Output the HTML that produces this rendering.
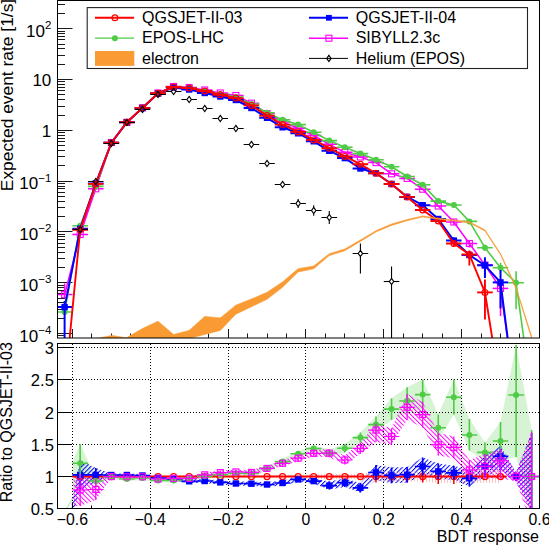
<!DOCTYPE html><html><head><meta charset="utf-8"><style>html,body{margin:0;padding:0;background:#fff;}svg{display:block;}</style></head><body>
<svg width="549" height="545" viewBox="0 0 549 545" font-family='"Liberation Sans", sans-serif'>
<rect width="549" height="545" fill="#fff"/>
<defs>
<clipPath id="cu"><rect x="57.5" y="0.5" width="482.0" height="337.5"/></clipPath>
<clipPath id="cl"><rect x="57.5" y="343.5" width="482.0" height="165.0"/></clipPath>
<pattern id="hb" patternUnits="userSpaceOnUse" width="3.2" height="4" patternTransform="rotate(45)"><rect x="0" y="0" width="1.0" height="4" fill="#0000ff"/></pattern>
<pattern id="hm" patternUnits="userSpaceOnUse" width="3.2" height="4" patternTransform="rotate(-45)"><rect x="0" y="0" width="0.95" height="4" fill="#ff00ff"/></pattern>
<pattern id="hr" patternUnits="userSpaceOnUse" width="3" height="3"><rect x="0" y="0" width="0.8" height="3" fill="#ffb0b0"/></pattern>
</defs>
<line x1="57.50" y1="335.50" x2="65.00" y2="335.50" stroke="#1a1a1a" stroke-width="1.00" />
<line x1="57.50" y1="333.50" x2="72.50" y2="333.50" stroke="#1a1a1a" stroke-width="1.00" />
<line x1="57.50" y1="318.50" x2="65.00" y2="318.50" stroke="#1a1a1a" stroke-width="1.00" />
<line x1="57.50" y1="309.50" x2="65.00" y2="309.50" stroke="#1a1a1a" stroke-width="1.00" />
<line x1="57.50" y1="302.50" x2="65.00" y2="302.50" stroke="#1a1a1a" stroke-width="1.00" />
<line x1="57.50" y1="298.50" x2="65.00" y2="298.50" stroke="#1a1a1a" stroke-width="1.00" />
<line x1="57.50" y1="293.50" x2="65.00" y2="293.50" stroke="#1a1a1a" stroke-width="1.00" />
<line x1="57.50" y1="290.50" x2="65.00" y2="290.50" stroke="#1a1a1a" stroke-width="1.00" />
<line x1="57.50" y1="287.50" x2="65.00" y2="287.50" stroke="#1a1a1a" stroke-width="1.00" />
<line x1="57.50" y1="285.50" x2="65.00" y2="285.50" stroke="#1a1a1a" stroke-width="1.00" />
<line x1="57.50" y1="282.50" x2="72.50" y2="282.50" stroke="#1a1a1a" stroke-width="1.00" />
<line x1="57.50" y1="267.50" x2="65.00" y2="267.50" stroke="#1a1a1a" stroke-width="1.00" />
<line x1="57.50" y1="258.50" x2="65.00" y2="258.50" stroke="#1a1a1a" stroke-width="1.00" />
<line x1="57.50" y1="252.50" x2="65.00" y2="252.50" stroke="#1a1a1a" stroke-width="1.00" />
<line x1="57.50" y1="247.50" x2="65.00" y2="247.50" stroke="#1a1a1a" stroke-width="1.00" />
<line x1="57.50" y1="243.50" x2="65.00" y2="243.50" stroke="#1a1a1a" stroke-width="1.00" />
<line x1="57.50" y1="239.50" x2="65.00" y2="239.50" stroke="#1a1a1a" stroke-width="1.00" />
<line x1="57.50" y1="236.50" x2="65.00" y2="236.50" stroke="#1a1a1a" stroke-width="1.00" />
<line x1="57.50" y1="234.50" x2="65.00" y2="234.50" stroke="#1a1a1a" stroke-width="1.00" />
<line x1="57.50" y1="231.50" x2="72.50" y2="231.50" stroke="#1a1a1a" stroke-width="1.00" />
<line x1="57.50" y1="216.50" x2="65.00" y2="216.50" stroke="#1a1a1a" stroke-width="1.00" />
<line x1="57.50" y1="207.50" x2="65.00" y2="207.50" stroke="#1a1a1a" stroke-width="1.00" />
<line x1="57.50" y1="201.50" x2="65.00" y2="201.50" stroke="#1a1a1a" stroke-width="1.00" />
<line x1="57.50" y1="196.50" x2="65.00" y2="196.50" stroke="#1a1a1a" stroke-width="1.00" />
<line x1="57.50" y1="192.50" x2="65.00" y2="192.50" stroke="#1a1a1a" stroke-width="1.00" />
<line x1="57.50" y1="188.50" x2="65.00" y2="188.50" stroke="#1a1a1a" stroke-width="1.00" />
<line x1="57.50" y1="186.50" x2="65.00" y2="186.50" stroke="#1a1a1a" stroke-width="1.00" />
<line x1="57.50" y1="183.50" x2="65.00" y2="183.50" stroke="#1a1a1a" stroke-width="1.00" />
<line x1="57.50" y1="181.50" x2="72.50" y2="181.50" stroke="#1a1a1a" stroke-width="1.00" />
<line x1="57.50" y1="165.50" x2="65.00" y2="165.50" stroke="#1a1a1a" stroke-width="1.00" />
<line x1="57.50" y1="156.50" x2="65.00" y2="156.50" stroke="#1a1a1a" stroke-width="1.00" />
<line x1="57.50" y1="150.50" x2="65.00" y2="150.50" stroke="#1a1a1a" stroke-width="1.00" />
<line x1="57.50" y1="145.50" x2="65.00" y2="145.50" stroke="#1a1a1a" stroke-width="1.00" />
<line x1="57.50" y1="141.50" x2="65.00" y2="141.50" stroke="#1a1a1a" stroke-width="1.00" />
<line x1="57.50" y1="138.50" x2="65.00" y2="138.50" stroke="#1a1a1a" stroke-width="1.00" />
<line x1="57.50" y1="135.50" x2="65.00" y2="135.50" stroke="#1a1a1a" stroke-width="1.00" />
<line x1="57.50" y1="132.50" x2="65.00" y2="132.50" stroke="#1a1a1a" stroke-width="1.00" />
<line x1="57.50" y1="130.50" x2="72.50" y2="130.50" stroke="#1a1a1a" stroke-width="1.00" />
<line x1="57.50" y1="115.50" x2="65.00" y2="115.50" stroke="#1a1a1a" stroke-width="1.00" />
<line x1="57.50" y1="106.50" x2="65.00" y2="106.50" stroke="#1a1a1a" stroke-width="1.00" />
<line x1="57.50" y1="99.50" x2="65.00" y2="99.50" stroke="#1a1a1a" stroke-width="1.00" />
<line x1="57.50" y1="94.50" x2="65.00" y2="94.50" stroke="#1a1a1a" stroke-width="1.00" />
<line x1="57.50" y1="90.50" x2="65.00" y2="90.50" stroke="#1a1a1a" stroke-width="1.00" />
<line x1="57.50" y1="87.50" x2="65.00" y2="87.50" stroke="#1a1a1a" stroke-width="1.00" />
<line x1="57.50" y1="84.50" x2="65.00" y2="84.50" stroke="#1a1a1a" stroke-width="1.00" />
<line x1="57.50" y1="81.50" x2="65.00" y2="81.50" stroke="#1a1a1a" stroke-width="1.00" />
<line x1="57.50" y1="79.50" x2="72.50" y2="79.50" stroke="#1a1a1a" stroke-width="1.00" />
<line x1="57.50" y1="64.50" x2="65.00" y2="64.50" stroke="#1a1a1a" stroke-width="1.00" />
<line x1="57.50" y1="55.50" x2="65.00" y2="55.50" stroke="#1a1a1a" stroke-width="1.00" />
<line x1="57.50" y1="48.50" x2="65.00" y2="48.50" stroke="#1a1a1a" stroke-width="1.00" />
<line x1="57.50" y1="44.50" x2="65.00" y2="44.50" stroke="#1a1a1a" stroke-width="1.00" />
<line x1="57.50" y1="39.50" x2="65.00" y2="39.50" stroke="#1a1a1a" stroke-width="1.00" />
<line x1="57.50" y1="36.50" x2="65.00" y2="36.50" stroke="#1a1a1a" stroke-width="1.00" />
<line x1="57.50" y1="33.50" x2="65.00" y2="33.50" stroke="#1a1a1a" stroke-width="1.00" />
<line x1="57.50" y1="31.50" x2="65.00" y2="31.50" stroke="#1a1a1a" stroke-width="1.00" />
<line x1="57.50" y1="28.50" x2="72.50" y2="28.50" stroke="#1a1a1a" stroke-width="1.00" />
<line x1="57.50" y1="13.50" x2="65.00" y2="13.50" stroke="#1a1a1a" stroke-width="1.00" />
<line x1="57.50" y1="4.50" x2="65.00" y2="4.50" stroke="#1a1a1a" stroke-width="1.00" />
<line x1="72.50" y1="338.00" x2="72.50" y2="329.00" stroke="#1a1a1a" stroke-width="1.00" />
<line x1="91.50" y1="338.00" x2="91.50" y2="333.50" stroke="#1a1a1a" stroke-width="1.00" />
<line x1="111.50" y1="338.00" x2="111.50" y2="333.50" stroke="#1a1a1a" stroke-width="1.00" />
<line x1="130.50" y1="338.00" x2="130.50" y2="333.50" stroke="#1a1a1a" stroke-width="1.00" />
<line x1="150.50" y1="338.00" x2="150.50" y2="329.00" stroke="#1a1a1a" stroke-width="1.00" />
<line x1="169.50" y1="338.00" x2="169.50" y2="333.50" stroke="#1a1a1a" stroke-width="1.00" />
<line x1="189.50" y1="338.00" x2="189.50" y2="333.50" stroke="#1a1a1a" stroke-width="1.00" />
<line x1="208.50" y1="338.00" x2="208.50" y2="333.50" stroke="#1a1a1a" stroke-width="1.00" />
<line x1="228.50" y1="338.00" x2="228.50" y2="329.00" stroke="#1a1a1a" stroke-width="1.00" />
<line x1="247.50" y1="338.00" x2="247.50" y2="333.50" stroke="#1a1a1a" stroke-width="1.00" />
<line x1="267.50" y1="338.00" x2="267.50" y2="333.50" stroke="#1a1a1a" stroke-width="1.00" />
<line x1="286.50" y1="338.00" x2="286.50" y2="333.50" stroke="#1a1a1a" stroke-width="1.00" />
<line x1="305.50" y1="338.00" x2="305.50" y2="329.00" stroke="#1a1a1a" stroke-width="1.00" />
<line x1="325.50" y1="338.00" x2="325.50" y2="333.50" stroke="#1a1a1a" stroke-width="1.00" />
<line x1="344.50" y1="338.00" x2="344.50" y2="333.50" stroke="#1a1a1a" stroke-width="1.00" />
<line x1="364.50" y1="338.00" x2="364.50" y2="333.50" stroke="#1a1a1a" stroke-width="1.00" />
<line x1="383.50" y1="338.00" x2="383.50" y2="329.00" stroke="#1a1a1a" stroke-width="1.00" />
<line x1="403.50" y1="338.00" x2="403.50" y2="333.50" stroke="#1a1a1a" stroke-width="1.00" />
<line x1="422.50" y1="338.00" x2="422.50" y2="333.50" stroke="#1a1a1a" stroke-width="1.00" />
<line x1="442.50" y1="338.00" x2="442.50" y2="333.50" stroke="#1a1a1a" stroke-width="1.00" />
<line x1="461.50" y1="338.00" x2="461.50" y2="329.00" stroke="#1a1a1a" stroke-width="1.00" />
<line x1="481.50" y1="338.00" x2="481.50" y2="333.50" stroke="#1a1a1a" stroke-width="1.00" />
<line x1="500.50" y1="338.00" x2="500.50" y2="333.50" stroke="#1a1a1a" stroke-width="1.00" />
<line x1="519.50" y1="338.00" x2="519.50" y2="333.50" stroke="#1a1a1a" stroke-width="1.00" />
<line x1="539.50" y1="338.00" x2="539.50" y2="329.00" stroke="#1a1a1a" stroke-width="1.00" />
<g clip-path="url(#cu)">
<line x1="56.83" y1="294.60" x2="72.40" y2="294.60" stroke="#ff00ff" stroke-width="1.50" />
<line x1="64.62" y1="283.60" x2="64.62" y2="297.60" stroke="#ff00ff" stroke-width="1.50" />
<line x1="72.40" y1="234.50" x2="87.97" y2="234.50" stroke="#ff00ff" stroke-width="1.50" />
<line x1="87.97" y1="188.80" x2="103.54" y2="188.80" stroke="#ff00ff" stroke-width="1.50" />
<line x1="103.54" y1="142.50" x2="119.10" y2="142.50" stroke="#ff00ff" stroke-width="1.50" />
<line x1="119.10" y1="122.30" x2="134.67" y2="122.30" stroke="#ff00ff" stroke-width="1.50" />
<line x1="134.67" y1="107.90" x2="150.24" y2="107.90" stroke="#ff00ff" stroke-width="1.50" />
<line x1="150.24" y1="93.00" x2="165.81" y2="93.00" stroke="#ff00ff" stroke-width="1.50" />
<line x1="165.81" y1="86.50" x2="181.38" y2="86.50" stroke="#ff00ff" stroke-width="1.50" />
<line x1="181.38" y1="87.50" x2="196.94" y2="87.50" stroke="#ff00ff" stroke-width="1.50" />
<line x1="196.94" y1="90.00" x2="212.51" y2="90.00" stroke="#ff00ff" stroke-width="1.50" />
<line x1="212.51" y1="93.00" x2="228.08" y2="93.00" stroke="#ff00ff" stroke-width="1.50" />
<line x1="228.08" y1="95.50" x2="243.65" y2="95.50" stroke="#ff00ff" stroke-width="1.50" />
<line x1="243.65" y1="103.20" x2="259.22" y2="103.20" stroke="#ff00ff" stroke-width="1.50" />
<line x1="259.22" y1="113.50" x2="274.78" y2="113.50" stroke="#ff00ff" stroke-width="1.50" />
<line x1="274.78" y1="122.00" x2="290.35" y2="122.00" stroke="#ff00ff" stroke-width="1.50" />
<line x1="290.35" y1="128.20" x2="305.92" y2="128.20" stroke="#ff00ff" stroke-width="1.50" />
<line x1="305.92" y1="135.50" x2="321.49" y2="135.50" stroke="#ff00ff" stroke-width="1.50" />
<line x1="321.49" y1="144.30" x2="337.06" y2="144.30" stroke="#ff00ff" stroke-width="1.50" />
<line x1="337.06" y1="152.30" x2="352.62" y2="152.30" stroke="#ff00ff" stroke-width="1.50" />
<line x1="352.62" y1="157.00" x2="368.19" y2="157.00" stroke="#ff00ff" stroke-width="1.50" />
<line x1="368.19" y1="162.60" x2="383.76" y2="162.60" stroke="#ff00ff" stroke-width="1.50" />
<line x1="383.76" y1="173.80" x2="399.33" y2="173.80" stroke="#ff00ff" stroke-width="1.50" />
<line x1="399.33" y1="178.40" x2="414.90" y2="178.40" stroke="#ff00ff" stroke-width="1.50" />
<line x1="414.90" y1="189.20" x2="430.46" y2="189.20" stroke="#ff00ff" stroke-width="1.50" />
<line x1="430.46" y1="206.00" x2="446.03" y2="206.00" stroke="#ff00ff" stroke-width="1.50" />
<line x1="446.03" y1="222.00" x2="461.60" y2="222.00" stroke="#ff00ff" stroke-width="1.50" />
<line x1="453.82" y1="219.00" x2="453.82" y2="225.00" stroke="#ff00ff" stroke-width="1.50" />
<line x1="461.60" y1="243.50" x2="477.17" y2="243.50" stroke="#ff00ff" stroke-width="1.50" />
<line x1="469.38" y1="240.50" x2="469.38" y2="247.50" stroke="#ff00ff" stroke-width="1.50" />
<line x1="477.17" y1="265.00" x2="492.74" y2="265.00" stroke="#ff00ff" stroke-width="1.50" />
<line x1="484.95" y1="261.00" x2="484.95" y2="271.00" stroke="#ff00ff" stroke-width="1.50" />
<line x1="492.74" y1="288.40" x2="508.30" y2="288.40" stroke="#ff00ff" stroke-width="1.50" />
<line x1="500.52" y1="280.40" x2="500.52" y2="316.10" stroke="#ff00ff" stroke-width="1.50" />
<path d="M64.62 294.60 L80.18 234.50 L95.75 188.80 L111.32 142.50 L126.89 122.30 L142.46 107.90 L158.02 93.00 L173.59 86.50 L189.16 87.50 L204.73 90.00 L220.30 93.00 L235.86 95.50 L251.43 103.20 L267.00 113.50 L282.57 122.00 L298.14 128.20 L313.70 135.50 L329.27 144.30 L344.84 152.30 L360.41 157.00 L375.98 162.60 L391.54 173.80 L407.11 178.40 L422.68 189.20 L438.25 206.00 L453.82 222.00 L469.38 243.50 L484.95 265.00 L500.52 288.40 L516.09 400.00" fill="none" stroke="#ff00ff" stroke-width="1.50" stroke-linejoin="round"/>
<rect x="61.62" y="291.60" width="6.00" height="6.00" fill="none" stroke="#ff00ff" stroke-width="1.1"/>
<rect x="77.18" y="231.50" width="6.00" height="6.00" fill="none" stroke="#ff00ff" stroke-width="1.1"/>
<rect x="92.75" y="185.80" width="6.00" height="6.00" fill="none" stroke="#ff00ff" stroke-width="1.1"/>
<rect x="108.32" y="139.50" width="6.00" height="6.00" fill="none" stroke="#ff00ff" stroke-width="1.1"/>
<rect x="123.89" y="119.30" width="6.00" height="6.00" fill="none" stroke="#ff00ff" stroke-width="1.1"/>
<rect x="139.46" y="104.90" width="6.00" height="6.00" fill="none" stroke="#ff00ff" stroke-width="1.1"/>
<rect x="155.02" y="90.00" width="6.00" height="6.00" fill="none" stroke="#ff00ff" stroke-width="1.1"/>
<rect x="170.59" y="83.50" width="6.00" height="6.00" fill="none" stroke="#ff00ff" stroke-width="1.1"/>
<rect x="186.16" y="84.50" width="6.00" height="6.00" fill="none" stroke="#ff00ff" stroke-width="1.1"/>
<rect x="201.73" y="87.00" width="6.00" height="6.00" fill="none" stroke="#ff00ff" stroke-width="1.1"/>
<rect x="217.30" y="90.00" width="6.00" height="6.00" fill="none" stroke="#ff00ff" stroke-width="1.1"/>
<rect x="232.86" y="92.50" width="6.00" height="6.00" fill="none" stroke="#ff00ff" stroke-width="1.1"/>
<rect x="248.43" y="100.20" width="6.00" height="6.00" fill="none" stroke="#ff00ff" stroke-width="1.1"/>
<rect x="264.00" y="110.50" width="6.00" height="6.00" fill="none" stroke="#ff00ff" stroke-width="1.1"/>
<rect x="279.57" y="119.00" width="6.00" height="6.00" fill="none" stroke="#ff00ff" stroke-width="1.1"/>
<rect x="295.14" y="125.20" width="6.00" height="6.00" fill="none" stroke="#ff00ff" stroke-width="1.1"/>
<rect x="310.70" y="132.50" width="6.00" height="6.00" fill="none" stroke="#ff00ff" stroke-width="1.1"/>
<rect x="326.27" y="141.30" width="6.00" height="6.00" fill="none" stroke="#ff00ff" stroke-width="1.1"/>
<rect x="341.84" y="149.30" width="6.00" height="6.00" fill="none" stroke="#ff00ff" stroke-width="1.1"/>
<rect x="357.41" y="154.00" width="6.00" height="6.00" fill="none" stroke="#ff00ff" stroke-width="1.1"/>
<rect x="372.98" y="159.60" width="6.00" height="6.00" fill="none" stroke="#ff00ff" stroke-width="1.1"/>
<rect x="388.54" y="170.80" width="6.00" height="6.00" fill="none" stroke="#ff00ff" stroke-width="1.1"/>
<rect x="404.11" y="175.40" width="6.00" height="6.00" fill="none" stroke="#ff00ff" stroke-width="1.1"/>
<rect x="419.68" y="186.20" width="6.00" height="6.00" fill="none" stroke="#ff00ff" stroke-width="1.1"/>
<rect x="435.25" y="203.00" width="6.00" height="6.00" fill="none" stroke="#ff00ff" stroke-width="1.1"/>
<rect x="450.82" y="219.00" width="6.00" height="6.00" fill="none" stroke="#ff00ff" stroke-width="1.1"/>
<rect x="466.38" y="240.50" width="6.00" height="6.00" fill="none" stroke="#ff00ff" stroke-width="1.1"/>
<rect x="481.95" y="262.00" width="6.00" height="6.00" fill="none" stroke="#ff00ff" stroke-width="1.1"/>
<rect x="497.52" y="285.40" width="6.00" height="6.00" fill="none" stroke="#ff00ff" stroke-width="1.1"/>
<line x1="56.83" y1="312.00" x2="72.40" y2="312.00" stroke="#4fcc45" stroke-width="1.60" />
<line x1="64.62" y1="309.00" x2="64.62" y2="315.00" stroke="#4fcc45" stroke-width="1.60" />
<line x1="72.40" y1="225.70" x2="87.97" y2="225.70" stroke="#4fcc45" stroke-width="1.60" />
<line x1="87.97" y1="186.40" x2="103.54" y2="186.40" stroke="#4fcc45" stroke-width="1.60" />
<line x1="103.54" y1="142.80" x2="119.10" y2="142.80" stroke="#4fcc45" stroke-width="1.60" />
<line x1="119.10" y1="122.30" x2="134.67" y2="122.30" stroke="#4fcc45" stroke-width="1.60" />
<line x1="134.67" y1="107.90" x2="150.24" y2="107.90" stroke="#4fcc45" stroke-width="1.60" />
<line x1="150.24" y1="93.20" x2="165.81" y2="93.20" stroke="#4fcc45" stroke-width="1.60" />
<line x1="165.81" y1="87.00" x2="181.38" y2="87.00" stroke="#4fcc45" stroke-width="1.60" />
<line x1="181.38" y1="88.00" x2="196.94" y2="88.00" stroke="#4fcc45" stroke-width="1.60" />
<line x1="196.94" y1="91.00" x2="212.51" y2="91.00" stroke="#4fcc45" stroke-width="1.60" />
<line x1="212.51" y1="94.00" x2="228.08" y2="94.00" stroke="#4fcc45" stroke-width="1.60" />
<line x1="228.08" y1="97.00" x2="243.65" y2="97.00" stroke="#4fcc45" stroke-width="1.60" />
<line x1="243.65" y1="104.00" x2="259.22" y2="104.00" stroke="#4fcc45" stroke-width="1.60" />
<line x1="259.22" y1="112.70" x2="274.78" y2="112.70" stroke="#4fcc45" stroke-width="1.60" />
<line x1="274.78" y1="119.70" x2="290.35" y2="119.70" stroke="#4fcc45" stroke-width="1.60" />
<line x1="290.35" y1="124.60" x2="305.92" y2="124.60" stroke="#4fcc45" stroke-width="1.60" />
<line x1="305.92" y1="132.20" x2="321.49" y2="132.20" stroke="#4fcc45" stroke-width="1.60" />
<line x1="321.49" y1="140.60" x2="337.06" y2="140.60" stroke="#4fcc45" stroke-width="1.60" />
<line x1="337.06" y1="147.20" x2="352.62" y2="147.20" stroke="#4fcc45" stroke-width="1.60" />
<line x1="352.62" y1="153.60" x2="368.19" y2="153.60" stroke="#4fcc45" stroke-width="1.60" />
<line x1="368.19" y1="159.70" x2="383.76" y2="159.70" stroke="#4fcc45" stroke-width="1.60" />
<line x1="383.76" y1="166.70" x2="399.33" y2="166.70" stroke="#4fcc45" stroke-width="1.60" />
<line x1="399.33" y1="176.50" x2="414.90" y2="176.50" stroke="#4fcc45" stroke-width="1.60" />
<line x1="414.90" y1="184.70" x2="430.46" y2="184.70" stroke="#4fcc45" stroke-width="1.60" />
<line x1="430.46" y1="201.10" x2="446.03" y2="201.10" stroke="#4fcc45" stroke-width="1.60" />
<line x1="446.03" y1="205.00" x2="461.60" y2="205.00" stroke="#4fcc45" stroke-width="1.60" />
<line x1="461.60" y1="221.40" x2="477.17" y2="221.40" stroke="#4fcc45" stroke-width="1.60" />
<line x1="477.17" y1="247.70" x2="492.74" y2="247.70" stroke="#4fcc45" stroke-width="1.60" />
<line x1="484.95" y1="244.70" x2="484.95" y2="250.70" stroke="#4fcc45" stroke-width="1.60" />
<line x1="492.74" y1="267.70" x2="508.30" y2="267.70" stroke="#4fcc45" stroke-width="1.60" />
<line x1="500.52" y1="262.70" x2="500.52" y2="272.70" stroke="#4fcc45" stroke-width="1.60" />
<line x1="508.30" y1="282.80" x2="523.87" y2="282.80" stroke="#4fcc45" stroke-width="1.60" />
<line x1="516.09" y1="271.30" x2="516.09" y2="309.20" stroke="#4fcc45" stroke-width="1.60" />
<path d="M64.62 312.00 L80.18 225.70 L95.75 186.40 L111.32 142.80 L126.89 122.30 L142.46 107.90 L158.02 93.20 L173.59 87.00 L189.16 88.00 L204.73 91.00 L220.30 94.00 L235.86 97.00 L251.43 104.00 L267.00 112.70 L282.57 119.70 L298.14 124.60 L313.70 132.20 L329.27 140.60 L344.84 147.20 L360.41 153.60 L375.98 159.70 L391.54 166.70 L407.11 176.50 L422.68 184.70 L438.25 201.10 L453.82 205.00 L469.38 221.40 L484.95 247.70 L500.52 267.70 L516.09 282.80 L531.66 395.00" fill="none" stroke="#4fcc45" stroke-width="1.60" stroke-linejoin="round"/>
<circle cx="64.62" cy="312.00" r="3.00" fill="#4fcc45"/>
<circle cx="80.18" cy="225.70" r="3.00" fill="#4fcc45"/>
<circle cx="95.75" cy="186.40" r="3.00" fill="#4fcc45"/>
<circle cx="111.32" cy="142.80" r="3.00" fill="#4fcc45"/>
<circle cx="126.89" cy="122.30" r="3.00" fill="#4fcc45"/>
<circle cx="142.46" cy="107.90" r="3.00" fill="#4fcc45"/>
<circle cx="158.02" cy="93.20" r="3.00" fill="#4fcc45"/>
<circle cx="173.59" cy="87.00" r="3.00" fill="#4fcc45"/>
<circle cx="189.16" cy="88.00" r="3.00" fill="#4fcc45"/>
<circle cx="204.73" cy="91.00" r="3.00" fill="#4fcc45"/>
<circle cx="220.30" cy="94.00" r="3.00" fill="#4fcc45"/>
<circle cx="235.86" cy="97.00" r="3.00" fill="#4fcc45"/>
<circle cx="251.43" cy="104.00" r="3.00" fill="#4fcc45"/>
<circle cx="267.00" cy="112.70" r="3.00" fill="#4fcc45"/>
<circle cx="282.57" cy="119.70" r="3.00" fill="#4fcc45"/>
<circle cx="298.14" cy="124.60" r="3.00" fill="#4fcc45"/>
<circle cx="313.70" cy="132.20" r="3.00" fill="#4fcc45"/>
<circle cx="329.27" cy="140.60" r="3.00" fill="#4fcc45"/>
<circle cx="344.84" cy="147.20" r="3.00" fill="#4fcc45"/>
<circle cx="360.41" cy="153.60" r="3.00" fill="#4fcc45"/>
<circle cx="375.98" cy="159.70" r="3.00" fill="#4fcc45"/>
<circle cx="391.54" cy="166.70" r="3.00" fill="#4fcc45"/>
<circle cx="407.11" cy="176.50" r="3.00" fill="#4fcc45"/>
<circle cx="422.68" cy="184.70" r="3.00" fill="#4fcc45"/>
<circle cx="438.25" cy="201.10" r="3.00" fill="#4fcc45"/>
<circle cx="453.82" cy="205.00" r="3.00" fill="#4fcc45"/>
<circle cx="469.38" cy="221.40" r="3.00" fill="#4fcc45"/>
<circle cx="484.95" cy="247.70" r="3.00" fill="#4fcc45"/>
<circle cx="500.52" cy="267.70" r="3.00" fill="#4fcc45"/>
<circle cx="516.09" cy="282.80" r="3.00" fill="#4fcc45"/>
<line x1="56.83" y1="307.10" x2="72.40" y2="307.10" stroke="#0000ff" stroke-width="2.00" />
<line x1="64.62" y1="301.10" x2="64.62" y2="347.10" stroke="#0000ff" stroke-width="2.00" />
<line x1="72.40" y1="228.70" x2="87.97" y2="228.70" stroke="#0000ff" stroke-width="2.00" />
<line x1="87.97" y1="183.50" x2="103.54" y2="183.50" stroke="#0000ff" stroke-width="2.00" />
<line x1="103.54" y1="142.80" x2="119.10" y2="142.80" stroke="#0000ff" stroke-width="2.00" />
<line x1="119.10" y1="122.30" x2="134.67" y2="122.30" stroke="#0000ff" stroke-width="2.00" />
<line x1="134.67" y1="107.90" x2="150.24" y2="107.90" stroke="#0000ff" stroke-width="2.00" />
<line x1="150.24" y1="93.40" x2="165.81" y2="93.40" stroke="#0000ff" stroke-width="2.00" />
<line x1="165.81" y1="87.50" x2="181.38" y2="87.50" stroke="#0000ff" stroke-width="2.00" />
<line x1="181.38" y1="89.50" x2="196.94" y2="89.50" stroke="#0000ff" stroke-width="2.00" />
<line x1="196.94" y1="93.00" x2="212.51" y2="93.00" stroke="#0000ff" stroke-width="2.00" />
<line x1="212.51" y1="96.50" x2="228.08" y2="96.50" stroke="#0000ff" stroke-width="2.00" />
<line x1="228.08" y1="100.00" x2="243.65" y2="100.00" stroke="#0000ff" stroke-width="2.00" />
<line x1="243.65" y1="108.00" x2="259.22" y2="108.00" stroke="#0000ff" stroke-width="2.00" />
<line x1="259.22" y1="117.80" x2="274.78" y2="117.80" stroke="#0000ff" stroke-width="2.00" />
<line x1="274.78" y1="127.30" x2="290.35" y2="127.30" stroke="#0000ff" stroke-width="2.00" />
<line x1="290.35" y1="133.30" x2="305.92" y2="133.30" stroke="#0000ff" stroke-width="2.00" />
<line x1="305.92" y1="141.30" x2="321.49" y2="141.30" stroke="#0000ff" stroke-width="2.00" />
<line x1="321.49" y1="150.80" x2="337.06" y2="150.80" stroke="#0000ff" stroke-width="2.00" />
<line x1="337.06" y1="158.10" x2="352.62" y2="158.10" stroke="#0000ff" stroke-width="2.00" />
<line x1="352.62" y1="168.50" x2="368.19" y2="168.50" stroke="#0000ff" stroke-width="2.00" />
<line x1="368.19" y1="173.20" x2="383.76" y2="173.20" stroke="#0000ff" stroke-width="2.00" />
<line x1="383.76" y1="184.00" x2="399.33" y2="184.00" stroke="#0000ff" stroke-width="2.00" />
<line x1="399.33" y1="196.90" x2="414.90" y2="196.90" stroke="#0000ff" stroke-width="2.00" />
<line x1="414.90" y1="205.20" x2="430.46" y2="205.20" stroke="#0000ff" stroke-width="2.00" />
<line x1="430.46" y1="219.00" x2="446.03" y2="219.00" stroke="#0000ff" stroke-width="2.00" />
<line x1="438.25" y1="217.00" x2="438.25" y2="221.00" stroke="#0000ff" stroke-width="2.00" />
<line x1="446.03" y1="240.60" x2="461.60" y2="240.60" stroke="#0000ff" stroke-width="2.00" />
<line x1="453.82" y1="237.60" x2="453.82" y2="243.60" stroke="#0000ff" stroke-width="2.00" />
<line x1="461.60" y1="255.00" x2="477.17" y2="255.00" stroke="#0000ff" stroke-width="2.00" />
<line x1="469.38" y1="251.00" x2="469.38" y2="259.00" stroke="#0000ff" stroke-width="2.00" />
<line x1="477.17" y1="265.30" x2="492.74" y2="265.30" stroke="#0000ff" stroke-width="2.00" />
<line x1="484.95" y1="257.30" x2="484.95" y2="278.00" stroke="#0000ff" stroke-width="2.00" />
<line x1="492.74" y1="282.40" x2="508.30" y2="282.40" stroke="#0000ff" stroke-width="2.00" />
<line x1="500.52" y1="270.00" x2="500.52" y2="308.40" stroke="#0000ff" stroke-width="2.00" />
<path d="M64.62 307.10 L80.18 228.70 L95.75 183.50 L111.32 142.80 L126.89 122.30 L142.46 107.90 L158.02 93.40 L173.59 87.50 L189.16 89.50 L204.73 93.00 L220.30 96.50 L235.86 100.00 L251.43 108.00 L267.00 117.80 L282.57 127.30 L298.14 133.30 L313.70 141.30 L329.27 150.80 L344.84 158.10 L360.41 168.50 L375.98 173.20 L391.54 184.00 L407.11 196.90 L422.68 205.20 L438.25 219.00 L453.82 240.60 L469.38 255.00 L484.95 265.30 L500.52 282.40 L516.09 404.00" fill="none" stroke="#0000ff" stroke-width="2.00" stroke-linejoin="round"/>
<rect x="61.42" y="303.90" width="6.40" height="6.40" fill="#0000ff"/>
<rect x="76.98" y="225.50" width="6.40" height="6.40" fill="#0000ff"/>
<rect x="92.55" y="180.30" width="6.40" height="6.40" fill="#0000ff"/>
<rect x="108.12" y="139.60" width="6.40" height="6.40" fill="#0000ff"/>
<rect x="123.69" y="119.10" width="6.40" height="6.40" fill="#0000ff"/>
<rect x="139.26" y="104.70" width="6.40" height="6.40" fill="#0000ff"/>
<rect x="154.82" y="90.20" width="6.40" height="6.40" fill="#0000ff"/>
<rect x="170.39" y="84.30" width="6.40" height="6.40" fill="#0000ff"/>
<rect x="185.96" y="86.30" width="6.40" height="6.40" fill="#0000ff"/>
<rect x="201.53" y="89.80" width="6.40" height="6.40" fill="#0000ff"/>
<rect x="217.10" y="93.30" width="6.40" height="6.40" fill="#0000ff"/>
<rect x="232.66" y="96.80" width="6.40" height="6.40" fill="#0000ff"/>
<rect x="248.23" y="104.80" width="6.40" height="6.40" fill="#0000ff"/>
<rect x="263.80" y="114.60" width="6.40" height="6.40" fill="#0000ff"/>
<rect x="279.37" y="124.10" width="6.40" height="6.40" fill="#0000ff"/>
<rect x="294.94" y="130.10" width="6.40" height="6.40" fill="#0000ff"/>
<rect x="310.50" y="138.10" width="6.40" height="6.40" fill="#0000ff"/>
<rect x="326.07" y="147.60" width="6.40" height="6.40" fill="#0000ff"/>
<rect x="341.64" y="154.90" width="6.40" height="6.40" fill="#0000ff"/>
<rect x="357.21" y="165.30" width="6.40" height="6.40" fill="#0000ff"/>
<rect x="372.78" y="170.00" width="6.40" height="6.40" fill="#0000ff"/>
<rect x="388.34" y="180.80" width="6.40" height="6.40" fill="#0000ff"/>
<rect x="403.91" y="193.70" width="6.40" height="6.40" fill="#0000ff"/>
<rect x="419.48" y="202.00" width="6.40" height="6.40" fill="#0000ff"/>
<rect x="435.05" y="215.80" width="6.40" height="6.40" fill="#0000ff"/>
<rect x="450.62" y="237.40" width="6.40" height="6.40" fill="#0000ff"/>
<rect x="466.18" y="251.80" width="6.40" height="6.40" fill="#0000ff"/>
<rect x="481.75" y="262.10" width="6.40" height="6.40" fill="#0000ff"/>
<rect x="497.32" y="279.20" width="6.40" height="6.40" fill="#0000ff"/>
<line x1="72.40" y1="229.80" x2="87.97" y2="229.80" stroke="#ff0000" stroke-width="1.90" />
<line x1="87.97" y1="183.90" x2="103.54" y2="183.90" stroke="#ff0000" stroke-width="1.90" />
<line x1="103.54" y1="142.80" x2="119.10" y2="142.80" stroke="#ff0000" stroke-width="1.90" />
<line x1="119.10" y1="122.30" x2="134.67" y2="122.30" stroke="#ff0000" stroke-width="1.90" />
<line x1="134.67" y1="107.90" x2="150.24" y2="107.90" stroke="#ff0000" stroke-width="1.90" />
<line x1="150.24" y1="93.20" x2="165.81" y2="93.20" stroke="#ff0000" stroke-width="1.90" />
<line x1="165.81" y1="87.00" x2="181.38" y2="87.00" stroke="#ff0000" stroke-width="1.90" />
<line x1="181.38" y1="88.10" x2="196.94" y2="88.10" stroke="#ff0000" stroke-width="1.90" />
<line x1="196.94" y1="91.00" x2="212.51" y2="91.00" stroke="#ff0000" stroke-width="1.90" />
<line x1="212.51" y1="94.70" x2="228.08" y2="94.70" stroke="#ff0000" stroke-width="1.90" />
<line x1="228.08" y1="98.10" x2="243.65" y2="98.10" stroke="#ff0000" stroke-width="1.90" />
<line x1="243.65" y1="105.40" x2="259.22" y2="105.40" stroke="#ff0000" stroke-width="1.90" />
<line x1="259.22" y1="115.60" x2="274.78" y2="115.60" stroke="#ff0000" stroke-width="1.90" />
<line x1="274.78" y1="124.60" x2="290.35" y2="124.60" stroke="#ff0000" stroke-width="1.90" />
<line x1="290.35" y1="131.90" x2="305.92" y2="131.90" stroke="#ff0000" stroke-width="1.90" />
<line x1="305.92" y1="139.90" x2="321.49" y2="139.90" stroke="#ff0000" stroke-width="1.90" />
<line x1="321.49" y1="148.20" x2="337.06" y2="148.20" stroke="#ff0000" stroke-width="1.90" />
<line x1="337.06" y1="156.40" x2="352.62" y2="156.40" stroke="#ff0000" stroke-width="1.90" />
<line x1="352.62" y1="164.20" x2="368.19" y2="164.20" stroke="#ff0000" stroke-width="1.90" />
<line x1="368.19" y1="173.20" x2="383.76" y2="173.20" stroke="#ff0000" stroke-width="1.90" />
<line x1="383.76" y1="184.00" x2="399.33" y2="184.00" stroke="#ff0000" stroke-width="1.90" />
<line x1="399.33" y1="196.90" x2="414.90" y2="196.90" stroke="#ff0000" stroke-width="1.90" />
<line x1="414.90" y1="210.00" x2="430.46" y2="210.00" stroke="#ff0000" stroke-width="1.90" />
<line x1="430.46" y1="221.00" x2="446.03" y2="221.00" stroke="#ff0000" stroke-width="1.90" />
<line x1="446.03" y1="243.50" x2="461.60" y2="243.50" stroke="#ff0000" stroke-width="1.90" />
<line x1="453.82" y1="240.50" x2="453.82" y2="246.50" stroke="#ff0000" stroke-width="1.90" />
<line x1="461.60" y1="254.50" x2="477.17" y2="254.50" stroke="#ff0000" stroke-width="1.90" />
<line x1="469.38" y1="250.50" x2="469.38" y2="265.50" stroke="#ff0000" stroke-width="1.90" />
<line x1="477.17" y1="292.40" x2="492.74" y2="292.40" stroke="#ff0000" stroke-width="1.90" />
<line x1="484.95" y1="279.40" x2="484.95" y2="319.40" stroke="#ff0000" stroke-width="1.90" />
<path d="M64.62 390.00 L80.18 229.80 L95.75 183.90 L111.32 142.80 L126.89 122.30 L142.46 107.90 L158.02 93.20 L173.59 87.00 L189.16 88.10 L204.73 91.00 L220.30 94.70 L235.86 98.10 L251.43 105.40 L267.00 115.60 L282.57 124.60 L298.14 131.90 L313.70 139.90 L329.27 148.20 L344.84 156.40 L360.41 164.20 L375.98 173.20 L391.54 184.00 L407.11 196.90 L422.68 210.00 L438.25 221.00 L453.82 243.50 L469.38 254.50 L484.95 292.40 L500.52 390.00" fill="none" stroke="#ff0000" stroke-width="1.90" stroke-linejoin="round"/>
<circle cx="80.18" cy="229.80" r="2.90" fill="none" stroke="#ff0000" stroke-width="1.2"/>
<circle cx="95.75" cy="183.90" r="2.90" fill="none" stroke="#ff0000" stroke-width="1.2"/>
<circle cx="111.32" cy="142.80" r="2.90" fill="none" stroke="#ff0000" stroke-width="1.2"/>
<circle cx="126.89" cy="122.30" r="2.90" fill="none" stroke="#ff0000" stroke-width="1.2"/>
<circle cx="142.46" cy="107.90" r="2.90" fill="none" stroke="#ff0000" stroke-width="1.2"/>
<circle cx="158.02" cy="93.20" r="2.90" fill="none" stroke="#ff0000" stroke-width="1.2"/>
<circle cx="173.59" cy="87.00" r="2.90" fill="none" stroke="#ff0000" stroke-width="1.2"/>
<circle cx="189.16" cy="88.10" r="2.90" fill="none" stroke="#ff0000" stroke-width="1.2"/>
<circle cx="204.73" cy="91.00" r="2.90" fill="none" stroke="#ff0000" stroke-width="1.2"/>
<circle cx="220.30" cy="94.70" r="2.90" fill="none" stroke="#ff0000" stroke-width="1.2"/>
<circle cx="235.86" cy="98.10" r="2.90" fill="none" stroke="#ff0000" stroke-width="1.2"/>
<circle cx="251.43" cy="105.40" r="2.90" fill="none" stroke="#ff0000" stroke-width="1.2"/>
<circle cx="267.00" cy="115.60" r="2.90" fill="none" stroke="#ff0000" stroke-width="1.2"/>
<circle cx="282.57" cy="124.60" r="2.90" fill="none" stroke="#ff0000" stroke-width="1.2"/>
<circle cx="298.14" cy="131.90" r="2.90" fill="none" stroke="#ff0000" stroke-width="1.2"/>
<circle cx="313.70" cy="139.90" r="2.90" fill="none" stroke="#ff0000" stroke-width="1.2"/>
<circle cx="329.27" cy="148.20" r="2.90" fill="none" stroke="#ff0000" stroke-width="1.2"/>
<circle cx="344.84" cy="156.40" r="2.90" fill="none" stroke="#ff0000" stroke-width="1.2"/>
<circle cx="360.41" cy="164.20" r="2.90" fill="none" stroke="#ff0000" stroke-width="1.2"/>
<circle cx="375.98" cy="173.20" r="2.90" fill="none" stroke="#ff0000" stroke-width="1.2"/>
<circle cx="391.54" cy="184.00" r="2.90" fill="none" stroke="#ff0000" stroke-width="1.2"/>
<circle cx="407.11" cy="196.90" r="2.90" fill="none" stroke="#ff0000" stroke-width="1.2"/>
<circle cx="422.68" cy="210.00" r="2.90" fill="none" stroke="#ff0000" stroke-width="1.2"/>
<circle cx="438.25" cy="221.00" r="2.90" fill="none" stroke="#ff0000" stroke-width="1.2"/>
<circle cx="453.82" cy="243.50" r="2.90" fill="none" stroke="#ff0000" stroke-width="1.2"/>
<circle cx="469.38" cy="254.50" r="2.90" fill="none" stroke="#ff0000" stroke-width="1.2"/>
<circle cx="484.95" cy="292.40" r="2.90" fill="none" stroke="#ff0000" stroke-width="1.2"/>
<path d="M96.60 338.50 L111.90 335.40 L126.50 337.80 L142.40 328.60 L158.00 321.20 L173.60 334.50 L189.10 330.40 L204.70 316.40 L220.30 317.90 L235.80 305.20 L251.40 299.00 L267.00 292.30 L282.50 281.90 L298.10 268.70 L313.70 266.00 L329.20 253.80 L344.80 249.00 L360.40 240.00 L375.90 230.70 L391.50 224.10 L407.10 219.60 L422.60 215.90 L438.20 218.30 L453.80 220.00 L469.30 221.80 L484.90 229.80 L500.50 253.50 L516.00 287.00 L531.60 336.00 L531.60 338.50 L516.00 288.50 L500.50 254.70 L484.90 230.90 L469.30 222.80 L453.80 221.00 L438.20 219.30 L422.60 216.90 L407.10 220.70 L391.50 225.40 L375.90 232.00 L360.40 241.50 L344.80 250.70 L329.20 255.60 L313.70 268.80 L298.10 272.00 L282.50 287.30 L267.00 299.30 L251.40 306.80 L235.80 314.20 L220.30 330.40 L204.70 334.50 L189.10 338.50 L173.60 338.50 L158.00 338.50 L142.40 338.50 L126.50 338.50 L111.90 338.50 L96.60 338.50 Z" fill="#f99a33" stroke="#f99a33" stroke-width="0.6"/>
<line x1="72.40" y1="229.50" x2="77.78" y2="229.50" stroke="#000000" stroke-width="1.10" />
<line x1="82.58" y1="229.50" x2="87.97" y2="229.50" stroke="#000000" stroke-width="1.10" />
<path d="M80.18 226.40L82.38 229.50L80.18 232.60L77.98 229.50Z" fill="none" stroke="#000000" stroke-width="1.15"/>
<line x1="87.97" y1="181.50" x2="93.35" y2="181.50" stroke="#000000" stroke-width="1.10" />
<line x1="98.15" y1="181.50" x2="103.54" y2="181.50" stroke="#000000" stroke-width="1.10" />
<path d="M95.75 178.40L97.95 181.50L95.75 184.60L93.55 181.50Z" fill="none" stroke="#000000" stroke-width="1.15"/>
<line x1="103.54" y1="143.50" x2="108.92" y2="143.50" stroke="#000000" stroke-width="1.10" />
<line x1="113.72" y1="143.50" x2="119.10" y2="143.50" stroke="#000000" stroke-width="1.10" />
<path d="M111.32 140.40L113.52 143.50L111.32 146.60L109.12 143.50Z" fill="none" stroke="#000000" stroke-width="1.15"/>
<line x1="119.10" y1="122.50" x2="124.49" y2="122.50" stroke="#000000" stroke-width="1.10" />
<line x1="129.29" y1="122.50" x2="134.67" y2="122.50" stroke="#000000" stroke-width="1.10" />
<path d="M126.89 119.40L129.09 122.50L126.89 125.60L124.69 122.50Z" fill="none" stroke="#000000" stroke-width="1.15"/>
<line x1="134.67" y1="109.50" x2="140.06" y2="109.50" stroke="#000000" stroke-width="1.10" />
<line x1="144.86" y1="109.50" x2="150.24" y2="109.50" stroke="#000000" stroke-width="1.10" />
<path d="M142.46 106.40L144.66 109.50L142.46 112.60L140.26 109.50Z" fill="none" stroke="#000000" stroke-width="1.15"/>
<line x1="150.24" y1="94.50" x2="155.62" y2="94.50" stroke="#000000" stroke-width="1.10" />
<line x1="160.42" y1="94.50" x2="165.81" y2="94.50" stroke="#000000" stroke-width="1.10" />
<path d="M158.02 91.40L160.22 94.50L158.02 97.60L155.82 94.50Z" fill="none" stroke="#000000" stroke-width="1.15"/>
<line x1="165.81" y1="91.50" x2="171.19" y2="91.50" stroke="#000000" stroke-width="1.10" />
<line x1="175.99" y1="91.50" x2="181.38" y2="91.50" stroke="#000000" stroke-width="1.10" />
<path d="M173.59 88.40L175.79 91.50L173.59 94.60L171.39 91.50Z" fill="none" stroke="#000000" stroke-width="1.15"/>
<line x1="181.38" y1="99.50" x2="186.76" y2="99.50" stroke="#000000" stroke-width="1.10" />
<line x1="191.56" y1="99.50" x2="196.94" y2="99.50" stroke="#000000" stroke-width="1.10" />
<path d="M189.16 96.40L191.36 99.50L189.16 102.60L186.96 99.50Z" fill="none" stroke="#000000" stroke-width="1.15"/>
<line x1="196.94" y1="108.50" x2="202.33" y2="108.50" stroke="#000000" stroke-width="1.10" />
<line x1="207.13" y1="108.50" x2="212.51" y2="108.50" stroke="#000000" stroke-width="1.10" />
<path d="M204.73 105.40L206.93 108.50L204.73 111.60L202.53 108.50Z" fill="none" stroke="#000000" stroke-width="1.15"/>
<line x1="212.51" y1="118.50" x2="217.90" y2="118.50" stroke="#000000" stroke-width="1.10" />
<line x1="222.70" y1="118.50" x2="228.08" y2="118.50" stroke="#000000" stroke-width="1.10" />
<path d="M220.30 115.40L222.50 118.50L220.30 121.60L218.10 118.50Z" fill="none" stroke="#000000" stroke-width="1.15"/>
<line x1="228.08" y1="128.50" x2="233.46" y2="128.50" stroke="#000000" stroke-width="1.10" />
<line x1="238.26" y1="128.50" x2="243.65" y2="128.50" stroke="#000000" stroke-width="1.10" />
<path d="M235.86 125.40L238.06 128.50L235.86 131.60L233.66 128.50Z" fill="none" stroke="#000000" stroke-width="1.15"/>
<line x1="243.65" y1="144.50" x2="249.03" y2="144.50" stroke="#000000" stroke-width="1.10" />
<line x1="253.83" y1="144.50" x2="259.22" y2="144.50" stroke="#000000" stroke-width="1.10" />
<path d="M251.43 141.40L253.63 144.50L251.43 147.60L249.23 144.50Z" fill="none" stroke="#000000" stroke-width="1.15"/>
<line x1="259.22" y1="163.50" x2="264.60" y2="163.50" stroke="#000000" stroke-width="1.10" />
<line x1="269.40" y1="163.50" x2="274.78" y2="163.50" stroke="#000000" stroke-width="1.10" />
<path d="M267.00 160.40L269.20 163.50L267.00 166.60L264.80 163.50Z" fill="none" stroke="#000000" stroke-width="1.15"/>
<line x1="274.78" y1="184.50" x2="280.17" y2="184.50" stroke="#000000" stroke-width="1.10" />
<line x1="284.97" y1="184.50" x2="290.35" y2="184.50" stroke="#000000" stroke-width="1.10" />
<path d="M282.57 181.40L284.77 184.50L282.57 187.60L280.37 184.50Z" fill="none" stroke="#000000" stroke-width="1.15"/>
<line x1="290.35" y1="203.50" x2="295.74" y2="203.50" stroke="#000000" stroke-width="1.10" />
<line x1="300.54" y1="203.50" x2="305.92" y2="203.50" stroke="#000000" stroke-width="1.10" />
<line x1="298.14" y1="198.90" x2="298.14" y2="200.40" stroke="#000000" stroke-width="1.10" />
<line x1="298.14" y1="206.60" x2="298.14" y2="208.10" stroke="#000000" stroke-width="1.10" />
<path d="M298.14 200.40L300.34 203.50L298.14 206.60L295.94 203.50Z" fill="none" stroke="#000000" stroke-width="1.15"/>
<line x1="305.92" y1="210.50" x2="311.30" y2="210.50" stroke="#000000" stroke-width="1.10" />
<line x1="316.10" y1="210.50" x2="321.49" y2="210.50" stroke="#000000" stroke-width="1.10" />
<line x1="313.70" y1="205.20" x2="313.70" y2="207.40" stroke="#000000" stroke-width="1.10" />
<line x1="313.70" y1="213.60" x2="313.70" y2="215.80" stroke="#000000" stroke-width="1.10" />
<path d="M313.70 207.40L315.90 210.50L313.70 213.60L311.50 210.50Z" fill="none" stroke="#000000" stroke-width="1.15"/>
<line x1="321.49" y1="217.50" x2="326.87" y2="217.50" stroke="#000000" stroke-width="1.10" />
<line x1="331.67" y1="217.50" x2="337.06" y2="217.50" stroke="#000000" stroke-width="1.10" />
<line x1="329.27" y1="211.00" x2="329.27" y2="214.40" stroke="#000000" stroke-width="1.10" />
<line x1="329.27" y1="220.60" x2="329.27" y2="224.00" stroke="#000000" stroke-width="1.10" />
<path d="M329.27 214.40L331.47 217.50L329.27 220.60L327.07 217.50Z" fill="none" stroke="#000000" stroke-width="1.15"/>
<line x1="352.62" y1="253.50" x2="358.01" y2="253.50" stroke="#000000" stroke-width="1.10" />
<line x1="362.81" y1="253.50" x2="368.19" y2="253.50" stroke="#000000" stroke-width="1.10" />
<line x1="360.41" y1="243.50" x2="360.41" y2="250.40" stroke="#000000" stroke-width="1.10" />
<line x1="360.41" y1="256.60" x2="360.41" y2="273.50" stroke="#000000" stroke-width="1.10" />
<path d="M360.41 250.40L362.61 253.50L360.41 256.60L358.21 253.50Z" fill="none" stroke="#000000" stroke-width="1.15"/>
<line x1="383.76" y1="281.50" x2="389.14" y2="281.50" stroke="#000000" stroke-width="1.10" />
<line x1="393.94" y1="281.50" x2="399.33" y2="281.50" stroke="#000000" stroke-width="1.10" />
<line x1="391.54" y1="266.50" x2="391.54" y2="278.40" stroke="#000000" stroke-width="1.10" />
<line x1="391.54" y1="284.60" x2="391.54" y2="341.50" stroke="#000000" stroke-width="1.10" />
<path d="M391.54 278.40L393.74 281.50L391.54 284.60L389.34 281.50Z" fill="none" stroke="#000000" stroke-width="1.15"/>
</g>
<rect x="57.5" y="0.5" width="482.0" height="337.5" fill="none" stroke="#000" stroke-width="1"/>
<text x="51.30" y="36.81" font-size="17.00" text-anchor="end" >10<tspan dy="-7.7" font-size="11.5">2</tspan></text>
<text x="51.30" y="86.21" font-size="17.00" text-anchor="end" >10</text>
<text x="51.30" y="137.01" font-size="17.00" text-anchor="end" >1</text>
<text x="51.30" y="189.21" font-size="17.00" text-anchor="end" >10<tspan dy="-7.7" font-size="11.5">−1</tspan></text>
<text x="51.30" y="240.01" font-size="17.00" text-anchor="end" >10<tspan dy="-7.7" font-size="11.5">−2</tspan></text>
<text x="51.30" y="290.81" font-size="17.00" text-anchor="end" >10<tspan dy="-7.7" font-size="11.5">−3</tspan></text>
<text x="51.30" y="341.61" font-size="17.00" text-anchor="end" >10<tspan dy="-7.7" font-size="11.5">−4</tspan></text>
<g clip-path="url(#cl)">
<path d="M72.60 462.00 L80.18 444.00 L95.75 478.00 L111.32 475.00 L126.89 477.00 L142.46 476.00 L158.02 478.50 L173.59 478.50 L189.16 476.50 L204.73 474.00 L220.30 472.60 L235.86 471.00 L251.43 471.00 L267.00 466.00 L282.57 459.00 L298.14 451.00 L313.70 445.50 L329.27 449.50 L344.84 444.00 L360.41 432.50 L375.98 416.40 L391.54 398.20 L407.11 387.30 L422.68 379.50 L438.25 414.60 L453.82 379.50 L469.38 419.00 L484.95 442.40 L500.52 422.00 L516.09 345.00 L531.66 430.00 L531.66 506.00 L516.09 457.00 L500.52 461.00 L484.95 462.00 L469.38 450.50 L453.82 414.50 L438.25 440.10 L422.68 409.00 L407.11 412.80 L391.54 420.00 L375.98 432.80 L360.41 442.70 L344.84 452.40 L329.27 457.00 L313.70 451.50 L298.14 456.60 L282.57 464.20 L267.00 470.80 L251.43 476.00 L235.86 475.60 L220.30 477.00 L204.73 478.40 L189.16 480.50 L173.59 482.50 L158.02 482.50 L142.46 480.00 L126.89 481.00 L111.32 479.00 L95.75 484.00 L80.18 478.00 L72.60 497.00 Z" fill="#d6f3d3" stroke="none"/>
<line x1="66.40" y1="509.00" x2="72.60" y2="498.00" stroke="#b5e8b0" stroke-width="1.20" />
<path d="M64.62 540.73 L80.18 460.00 L95.75 468.00 L111.32 473.50 L126.89 473.50 L142.46 474.00 L158.02 476.50 L173.59 477.50 L189.16 479.50 L204.73 479.00 L220.30 480.40 L235.86 481.50 L251.43 481.50 L267.00 482.30 L282.57 480.50 L298.14 476.90 L313.70 478.40 L329.27 481.60 L344.84 478.50 L360.41 483.00 L375.98 465.00 L391.54 467.50 L407.11 467.00 L422.68 457.50 L438.25 463.50 L453.82 465.80 L469.38 470.00 L484.95 456.00 L500.52 446.00 L516.09 472.50 L531.66 433.00 L531.66 512.00 L516.09 481.00 L500.52 470.00 L484.95 476.80 L469.38 486.60 L453.82 479.80 L438.25 479.30 L422.68 475.50 L407.11 482.50 L391.54 483.30 L375.98 480.00 L360.41 492.60 L344.84 486.90 L329.27 489.60 L313.70 483.80 L298.14 481.90 L282.57 485.50 L267.00 486.70 L251.43 485.90 L235.86 485.50 L220.30 484.40 L204.73 483.00 L189.16 483.10 L173.59 480.50 L158.02 479.50 L142.46 477.00 L126.89 476.50 L111.32 476.50 L95.75 482.00 L80.18 490.00 L64.62 540.73 Z" fill="url(#hb)" stroke="none"/>
<path d="M73.50 476.70 L80.18 474.00 L95.75 479.00 L111.32 474.50 L126.89 475.00 L142.46 475.00 L158.02 477.00 L173.59 476.40 L189.16 476.20 L204.73 472.60 L220.30 470.40 L235.86 469.50 L251.43 470.00 L267.00 466.00 L282.57 460.50 L298.14 455.00 L313.70 449.80 L329.27 449.20 L344.84 455.50 L360.41 443.00 L375.98 423.70 L391.54 428.30 L407.11 394.00 L422.68 402.00 L438.25 432.80 L453.82 436.50 L469.38 460.00 L484.95 454.00 L500.52 449.00 L516.09 472.00 L531.66 432.00 L531.66 525.00 L516.09 481.50 L500.52 478.40 L484.95 478.80 L469.38 480.00 L453.82 458.30 L438.25 455.60 L422.68 427.40 L407.11 420.00 L391.54 444.70 L375.98 441.90 L360.41 453.80 L344.84 464.50 L329.27 457.20 L313.70 456.80 L298.14 461.40 L282.57 466.10 L267.00 470.80 L251.43 474.80 L235.86 474.30 L220.30 474.80 L204.73 477.00 L189.16 480.60 L173.59 480.40 L158.02 481.00 L142.46 478.60 L126.89 478.60 L111.32 478.00 L95.75 500.00 L80.18 506.00 L73.50 506.00 Z" fill="url(#hm)" stroke="none"/>
<path d="M80.18 475.60 L95.75 475.60 L111.32 475.60 L126.89 475.60 L142.46 475.60 L158.02 475.60 L173.59 475.60 L189.16 475.60 L204.73 475.60 L220.30 475.60 L235.86 475.60 L251.43 475.60 L267.00 475.60 L282.57 475.60 L298.14 475.60 L313.70 474.10 L329.27 474.10 L344.84 474.10 L360.41 474.10 L375.98 471.60 L391.54 471.60 L407.11 471.60 L422.68 471.60 L438.25 470.10 L453.82 470.10 L469.38 470.10 L484.95 470.10 L500.52 470.10 L500.52 483.10 L484.95 483.10 L469.38 483.10 L453.82 483.10 L438.25 483.10 L422.68 481.60 L407.11 481.60 L391.54 481.60 L375.98 481.60 L360.41 479.10 L344.84 479.10 L329.27 479.10 L313.70 479.10 L298.14 477.60 L282.57 477.60 L267.00 477.60 L251.43 477.60 L235.86 477.60 L220.30 477.60 L204.73 477.60 L189.16 477.60 L173.59 477.60 L158.02 477.60 L142.46 477.60 L126.89 477.60 L111.32 477.60 L95.75 477.60 L80.18 477.60 Z" fill="url(#hr)"/>
<line x1="58.00" y1="476.50" x2="539.00" y2="476.50" stroke="#000" stroke-width="1.00" stroke-dasharray="1 2"/>
<line x1="58.00" y1="444.50" x2="539.00" y2="444.50" stroke="#000" stroke-width="1.00" stroke-dasharray="1 2"/>
<line x1="58.00" y1="412.50" x2="539.00" y2="412.50" stroke="#000" stroke-width="1.00" stroke-dasharray="1 2"/>
<line x1="58.00" y1="379.50" x2="539.00" y2="379.50" stroke="#000" stroke-width="1.00" stroke-dasharray="1 2"/>
<line x1="58.00" y1="347.50" x2="539.00" y2="347.50" stroke="#000" stroke-width="1.00" stroke-dasharray="1 2"/>
<line x1="72.50" y1="344.00" x2="72.50" y2="508.00" stroke="#000" stroke-width="1.00" stroke-dasharray="1 2"/>
<line x1="150.50" y1="344.00" x2="150.50" y2="508.00" stroke="#000" stroke-width="1.00" stroke-dasharray="1 2"/>
<line x1="228.50" y1="344.00" x2="228.50" y2="508.00" stroke="#000" stroke-width="1.00" stroke-dasharray="1 2"/>
<line x1="305.50" y1="344.00" x2="305.50" y2="508.00" stroke="#000" stroke-width="1.00" stroke-dasharray="1 2"/>
<line x1="383.50" y1="344.00" x2="383.50" y2="508.00" stroke="#000" stroke-width="1.00" stroke-dasharray="1 2"/>
<line x1="461.50" y1="344.00" x2="461.50" y2="508.00" stroke="#000" stroke-width="1.00" stroke-dasharray="1 2"/>
<line x1="72.40" y1="476.60" x2="506.75" y2="476.60" stroke="#ff0000" stroke-width="2.00" />
<line x1="375.98" y1="471.60" x2="375.98" y2="482.60" stroke="#ff0000" stroke-width="1.50" />
<line x1="391.54" y1="471.60" x2="391.54" y2="482.60" stroke="#ff0000" stroke-width="1.50" />
<line x1="407.11" y1="471.60" x2="407.11" y2="482.60" stroke="#ff0000" stroke-width="1.50" />
<line x1="422.68" y1="471.60" x2="422.68" y2="482.60" stroke="#ff0000" stroke-width="1.50" />
<line x1="438.25" y1="470.10" x2="438.25" y2="484.10" stroke="#ff0000" stroke-width="1.50" />
<line x1="453.82" y1="470.10" x2="453.82" y2="484.10" stroke="#ff0000" stroke-width="1.50" />
<circle cx="80.18" cy="476.60" r="3.04" fill="none" stroke="#ff0000" stroke-width="1.2"/>
<circle cx="95.75" cy="476.60" r="3.04" fill="none" stroke="#ff0000" stroke-width="1.2"/>
<circle cx="111.32" cy="476.60" r="3.04" fill="none" stroke="#ff0000" stroke-width="1.2"/>
<circle cx="126.89" cy="476.60" r="3.04" fill="none" stroke="#ff0000" stroke-width="1.2"/>
<circle cx="142.46" cy="476.60" r="3.04" fill="none" stroke="#ff0000" stroke-width="1.2"/>
<circle cx="158.02" cy="476.60" r="3.04" fill="none" stroke="#ff0000" stroke-width="1.2"/>
<circle cx="173.59" cy="476.60" r="3.04" fill="none" stroke="#ff0000" stroke-width="1.2"/>
<circle cx="189.16" cy="476.60" r="3.04" fill="none" stroke="#ff0000" stroke-width="1.2"/>
<circle cx="204.73" cy="476.60" r="3.04" fill="none" stroke="#ff0000" stroke-width="1.2"/>
<circle cx="220.30" cy="476.60" r="3.04" fill="none" stroke="#ff0000" stroke-width="1.2"/>
<circle cx="235.86" cy="476.60" r="3.04" fill="none" stroke="#ff0000" stroke-width="1.2"/>
<circle cx="251.43" cy="476.60" r="3.04" fill="none" stroke="#ff0000" stroke-width="1.2"/>
<circle cx="267.00" cy="476.60" r="3.04" fill="none" stroke="#ff0000" stroke-width="1.2"/>
<circle cx="282.57" cy="476.60" r="3.04" fill="none" stroke="#ff0000" stroke-width="1.2"/>
<circle cx="298.14" cy="476.60" r="3.04" fill="none" stroke="#ff0000" stroke-width="1.2"/>
<circle cx="313.70" cy="476.60" r="3.04" fill="none" stroke="#ff0000" stroke-width="1.2"/>
<circle cx="329.27" cy="476.60" r="3.04" fill="none" stroke="#ff0000" stroke-width="1.2"/>
<circle cx="344.84" cy="476.60" r="3.04" fill="none" stroke="#ff0000" stroke-width="1.2"/>
<circle cx="360.41" cy="476.60" r="3.04" fill="none" stroke="#ff0000" stroke-width="1.2"/>
<circle cx="375.98" cy="476.60" r="3.04" fill="none" stroke="#ff0000" stroke-width="1.2"/>
<circle cx="391.54" cy="476.60" r="3.04" fill="none" stroke="#ff0000" stroke-width="1.2"/>
<circle cx="407.11" cy="476.60" r="3.04" fill="none" stroke="#ff0000" stroke-width="1.2"/>
<circle cx="422.68" cy="476.60" r="3.04" fill="none" stroke="#ff0000" stroke-width="1.2"/>
<circle cx="438.25" cy="476.60" r="3.04" fill="none" stroke="#ff0000" stroke-width="1.2"/>
<circle cx="453.82" cy="476.60" r="3.04" fill="none" stroke="#ff0000" stroke-width="1.2"/>
<circle cx="469.38" cy="476.60" r="3.04" fill="none" stroke="#ff0000" stroke-width="1.2"/>
<circle cx="484.95" cy="476.60" r="3.04" fill="none" stroke="#ff0000" stroke-width="1.2"/>
<circle cx="500.52" cy="476.60" r="3.04" fill="none" stroke="#ff0000" stroke-width="1.2"/>
<line x1="72.40" y1="474.90" x2="87.97" y2="474.90" stroke="#0000ff" stroke-width="1.70" />
<line x1="80.18" y1="460.00" x2="80.18" y2="490.00" stroke="#0000ff" stroke-width="1.70" />
<line x1="87.97" y1="474.90" x2="103.54" y2="474.90" stroke="#0000ff" stroke-width="1.70" />
<line x1="95.75" y1="468.00" x2="95.75" y2="482.00" stroke="#0000ff" stroke-width="1.70" />
<line x1="103.54" y1="475.00" x2="119.10" y2="475.00" stroke="#0000ff" stroke-width="1.70" />
<line x1="111.32" y1="473.50" x2="111.32" y2="476.50" stroke="#0000ff" stroke-width="1.70" />
<line x1="119.10" y1="475.00" x2="134.67" y2="475.00" stroke="#0000ff" stroke-width="1.70" />
<line x1="126.89" y1="473.50" x2="126.89" y2="476.50" stroke="#0000ff" stroke-width="1.70" />
<line x1="134.67" y1="475.50" x2="150.24" y2="475.50" stroke="#0000ff" stroke-width="1.70" />
<line x1="142.46" y1="474.00" x2="142.46" y2="477.00" stroke="#0000ff" stroke-width="1.70" />
<line x1="150.24" y1="478.00" x2="165.81" y2="478.00" stroke="#0000ff" stroke-width="1.70" />
<line x1="158.02" y1="476.50" x2="158.02" y2="479.50" stroke="#0000ff" stroke-width="1.70" />
<line x1="165.81" y1="479.00" x2="181.38" y2="479.00" stroke="#0000ff" stroke-width="1.70" />
<line x1="173.59" y1="477.50" x2="173.59" y2="480.50" stroke="#0000ff" stroke-width="1.70" />
<line x1="181.38" y1="481.30" x2="196.94" y2="481.30" stroke="#0000ff" stroke-width="1.70" />
<line x1="189.16" y1="479.50" x2="189.16" y2="483.10" stroke="#0000ff" stroke-width="1.70" />
<line x1="196.94" y1="481.00" x2="212.51" y2="481.00" stroke="#0000ff" stroke-width="1.70" />
<line x1="204.73" y1="479.00" x2="204.73" y2="483.00" stroke="#0000ff" stroke-width="1.70" />
<line x1="212.51" y1="482.40" x2="228.08" y2="482.40" stroke="#0000ff" stroke-width="1.70" />
<line x1="220.30" y1="480.40" x2="220.30" y2="484.40" stroke="#0000ff" stroke-width="1.70" />
<line x1="228.08" y1="483.50" x2="243.65" y2="483.50" stroke="#0000ff" stroke-width="1.70" />
<line x1="235.86" y1="481.50" x2="235.86" y2="485.50" stroke="#0000ff" stroke-width="1.70" />
<line x1="243.65" y1="483.70" x2="259.22" y2="483.70" stroke="#0000ff" stroke-width="1.70" />
<line x1="251.43" y1="481.50" x2="251.43" y2="485.90" stroke="#0000ff" stroke-width="1.70" />
<line x1="259.22" y1="484.50" x2="274.78" y2="484.50" stroke="#0000ff" stroke-width="1.70" />
<line x1="267.00" y1="482.30" x2="267.00" y2="486.70" stroke="#0000ff" stroke-width="1.70" />
<line x1="274.78" y1="483.00" x2="290.35" y2="483.00" stroke="#0000ff" stroke-width="1.70" />
<line x1="282.57" y1="480.50" x2="282.57" y2="485.50" stroke="#0000ff" stroke-width="1.70" />
<line x1="290.35" y1="479.40" x2="305.92" y2="479.40" stroke="#0000ff" stroke-width="1.70" />
<line x1="298.14" y1="476.90" x2="298.14" y2="481.90" stroke="#0000ff" stroke-width="1.70" />
<line x1="305.92" y1="481.10" x2="321.49" y2="481.10" stroke="#0000ff" stroke-width="1.70" />
<line x1="313.70" y1="478.40" x2="313.70" y2="483.80" stroke="#0000ff" stroke-width="1.70" />
<line x1="321.49" y1="485.60" x2="337.06" y2="485.60" stroke="#0000ff" stroke-width="1.70" />
<line x1="329.27" y1="481.60" x2="329.27" y2="489.60" stroke="#0000ff" stroke-width="1.70" />
<line x1="337.06" y1="482.70" x2="352.62" y2="482.70" stroke="#0000ff" stroke-width="1.70" />
<line x1="344.84" y1="478.50" x2="344.84" y2="486.90" stroke="#0000ff" stroke-width="1.70" />
<line x1="352.62" y1="487.80" x2="368.19" y2="487.80" stroke="#0000ff" stroke-width="1.70" />
<line x1="360.41" y1="483.00" x2="360.41" y2="492.60" stroke="#0000ff" stroke-width="1.70" />
<line x1="368.19" y1="472.50" x2="383.76" y2="472.50" stroke="#0000ff" stroke-width="1.70" />
<line x1="375.98" y1="465.00" x2="375.98" y2="480.00" stroke="#0000ff" stroke-width="1.70" />
<line x1="383.76" y1="475.40" x2="399.33" y2="475.40" stroke="#0000ff" stroke-width="1.70" />
<line x1="391.54" y1="467.50" x2="391.54" y2="483.30" stroke="#0000ff" stroke-width="1.70" />
<line x1="399.33" y1="474.70" x2="414.90" y2="474.70" stroke="#0000ff" stroke-width="1.70" />
<line x1="407.11" y1="467.00" x2="407.11" y2="482.50" stroke="#0000ff" stroke-width="1.70" />
<line x1="414.90" y1="466.50" x2="430.46" y2="466.50" stroke="#0000ff" stroke-width="1.70" />
<line x1="422.68" y1="457.50" x2="422.68" y2="475.50" stroke="#0000ff" stroke-width="1.70" />
<line x1="430.46" y1="471.40" x2="446.03" y2="471.40" stroke="#0000ff" stroke-width="1.70" />
<line x1="438.25" y1="463.50" x2="438.25" y2="479.30" stroke="#0000ff" stroke-width="1.70" />
<line x1="446.03" y1="472.80" x2="461.60" y2="472.80" stroke="#0000ff" stroke-width="1.70" />
<line x1="453.82" y1="465.80" x2="453.82" y2="479.80" stroke="#0000ff" stroke-width="1.70" />
<line x1="461.60" y1="478.30" x2="477.17" y2="478.30" stroke="#0000ff" stroke-width="1.70" />
<line x1="469.38" y1="470.00" x2="469.38" y2="486.60" stroke="#0000ff" stroke-width="1.70" />
<line x1="477.17" y1="466.40" x2="492.74" y2="466.40" stroke="#0000ff" stroke-width="1.70" />
<line x1="484.95" y1="456.00" x2="484.95" y2="476.80" stroke="#0000ff" stroke-width="1.70" />
<line x1="492.74" y1="456.40" x2="508.30" y2="456.40" stroke="#0000ff" stroke-width="1.70" />
<line x1="500.52" y1="446.00" x2="500.52" y2="470.00" stroke="#0000ff" stroke-width="1.70" />
<line x1="508.30" y1="476.50" x2="523.87" y2="476.50" stroke="#0000ff" stroke-width="1.70" />
<line x1="516.09" y1="472.50" x2="516.09" y2="481.00" stroke="#0000ff" stroke-width="1.70" />
<line x1="523.87" y1="476.50" x2="539.44" y2="476.50" stroke="#0000ff" stroke-width="1.70" />
<line x1="531.66" y1="433.00" x2="531.66" y2="512.00" stroke="#0000ff" stroke-width="1.70" />
<rect x="76.98" y="471.70" width="6.40" height="6.40" fill="#0000ff"/>
<rect x="92.55" y="471.70" width="6.40" height="6.40" fill="#0000ff"/>
<rect x="108.12" y="471.80" width="6.40" height="6.40" fill="#0000ff"/>
<rect x="123.69" y="471.80" width="6.40" height="6.40" fill="#0000ff"/>
<rect x="139.26" y="472.30" width="6.40" height="6.40" fill="#0000ff"/>
<rect x="154.82" y="474.80" width="6.40" height="6.40" fill="#0000ff"/>
<rect x="170.39" y="475.80" width="6.40" height="6.40" fill="#0000ff"/>
<rect x="185.96" y="478.10" width="6.40" height="6.40" fill="#0000ff"/>
<rect x="201.53" y="477.80" width="6.40" height="6.40" fill="#0000ff"/>
<rect x="217.10" y="479.20" width="6.40" height="6.40" fill="#0000ff"/>
<rect x="232.66" y="480.30" width="6.40" height="6.40" fill="#0000ff"/>
<rect x="248.23" y="480.50" width="6.40" height="6.40" fill="#0000ff"/>
<rect x="263.80" y="481.30" width="6.40" height="6.40" fill="#0000ff"/>
<rect x="279.37" y="479.80" width="6.40" height="6.40" fill="#0000ff"/>
<rect x="294.94" y="476.20" width="6.40" height="6.40" fill="#0000ff"/>
<rect x="310.50" y="477.90" width="6.40" height="6.40" fill="#0000ff"/>
<rect x="326.07" y="482.40" width="6.40" height="6.40" fill="#0000ff"/>
<rect x="341.64" y="479.50" width="6.40" height="6.40" fill="#0000ff"/>
<rect x="357.21" y="484.60" width="6.40" height="6.40" fill="#0000ff"/>
<rect x="372.78" y="469.30" width="6.40" height="6.40" fill="#0000ff"/>
<rect x="388.34" y="472.20" width="6.40" height="6.40" fill="#0000ff"/>
<rect x="403.91" y="471.50" width="6.40" height="6.40" fill="#0000ff"/>
<rect x="419.48" y="463.30" width="6.40" height="6.40" fill="#0000ff"/>
<rect x="435.05" y="468.20" width="6.40" height="6.40" fill="#0000ff"/>
<rect x="450.62" y="469.60" width="6.40" height="6.40" fill="#0000ff"/>
<rect x="466.18" y="475.10" width="6.40" height="6.40" fill="#0000ff"/>
<rect x="481.75" y="463.20" width="6.40" height="6.40" fill="#0000ff"/>
<rect x="497.32" y="453.20" width="6.40" height="6.40" fill="#0000ff"/>
<rect x="512.89" y="473.30" width="6.40" height="6.40" fill="#0000ff"/>
<rect x="528.46" y="473.30" width="6.40" height="6.40" fill="#0000ff"/>
<line x1="72.40" y1="463.20" x2="87.97" y2="463.20" stroke="#4fcc45" stroke-width="1.60" />
<line x1="80.18" y1="444.00" x2="80.18" y2="478.00" stroke="#4fcc45" stroke-width="1.60" />
<line x1="87.97" y1="481.00" x2="103.54" y2="481.00" stroke="#4fcc45" stroke-width="1.60" />
<line x1="95.75" y1="478.00" x2="95.75" y2="484.00" stroke="#4fcc45" stroke-width="1.60" />
<line x1="103.54" y1="477.00" x2="119.10" y2="477.00" stroke="#4fcc45" stroke-width="1.60" />
<line x1="111.32" y1="475.00" x2="111.32" y2="479.00" stroke="#4fcc45" stroke-width="1.60" />
<line x1="119.10" y1="479.00" x2="134.67" y2="479.00" stroke="#4fcc45" stroke-width="1.60" />
<line x1="126.89" y1="477.00" x2="126.89" y2="481.00" stroke="#4fcc45" stroke-width="1.60" />
<line x1="134.67" y1="478.00" x2="150.24" y2="478.00" stroke="#4fcc45" stroke-width="1.60" />
<line x1="142.46" y1="476.00" x2="142.46" y2="480.00" stroke="#4fcc45" stroke-width="1.60" />
<line x1="150.24" y1="480.50" x2="165.81" y2="480.50" stroke="#4fcc45" stroke-width="1.60" />
<line x1="158.02" y1="478.50" x2="158.02" y2="482.50" stroke="#4fcc45" stroke-width="1.60" />
<line x1="165.81" y1="480.50" x2="181.38" y2="480.50" stroke="#4fcc45" stroke-width="1.60" />
<line x1="173.59" y1="478.50" x2="173.59" y2="482.50" stroke="#4fcc45" stroke-width="1.60" />
<line x1="181.38" y1="478.50" x2="196.94" y2="478.50" stroke="#4fcc45" stroke-width="1.60" />
<line x1="189.16" y1="476.50" x2="189.16" y2="480.50" stroke="#4fcc45" stroke-width="1.60" />
<line x1="196.94" y1="476.20" x2="212.51" y2="476.20" stroke="#4fcc45" stroke-width="1.60" />
<line x1="204.73" y1="474.00" x2="204.73" y2="478.40" stroke="#4fcc45" stroke-width="1.60" />
<line x1="212.51" y1="474.80" x2="228.08" y2="474.80" stroke="#4fcc45" stroke-width="1.60" />
<line x1="220.30" y1="472.60" x2="220.30" y2="477.00" stroke="#4fcc45" stroke-width="1.60" />
<line x1="228.08" y1="473.30" x2="243.65" y2="473.30" stroke="#4fcc45" stroke-width="1.60" />
<line x1="235.86" y1="471.00" x2="235.86" y2="475.60" stroke="#4fcc45" stroke-width="1.60" />
<line x1="243.65" y1="473.50" x2="259.22" y2="473.50" stroke="#4fcc45" stroke-width="1.60" />
<line x1="251.43" y1="471.00" x2="251.43" y2="476.00" stroke="#4fcc45" stroke-width="1.60" />
<line x1="259.22" y1="468.40" x2="274.78" y2="468.40" stroke="#4fcc45" stroke-width="1.60" />
<line x1="267.00" y1="466.00" x2="267.00" y2="470.80" stroke="#4fcc45" stroke-width="1.60" />
<line x1="274.78" y1="461.60" x2="290.35" y2="461.60" stroke="#4fcc45" stroke-width="1.60" />
<line x1="282.57" y1="459.00" x2="282.57" y2="464.20" stroke="#4fcc45" stroke-width="1.60" />
<line x1="290.35" y1="453.80" x2="305.92" y2="453.80" stroke="#4fcc45" stroke-width="1.60" />
<line x1="298.14" y1="451.00" x2="298.14" y2="456.60" stroke="#4fcc45" stroke-width="1.60" />
<line x1="305.92" y1="448.50" x2="321.49" y2="448.50" stroke="#4fcc45" stroke-width="1.60" />
<line x1="313.70" y1="445.50" x2="313.70" y2="451.50" stroke="#4fcc45" stroke-width="1.60" />
<line x1="321.49" y1="453.20" x2="337.06" y2="453.20" stroke="#4fcc45" stroke-width="1.60" />
<line x1="329.27" y1="449.50" x2="329.27" y2="457.00" stroke="#4fcc45" stroke-width="1.60" />
<line x1="337.06" y1="448.20" x2="352.62" y2="448.20" stroke="#4fcc45" stroke-width="1.60" />
<line x1="344.84" y1="444.00" x2="344.84" y2="452.40" stroke="#4fcc45" stroke-width="1.60" />
<line x1="352.62" y1="437.60" x2="368.19" y2="437.60" stroke="#4fcc45" stroke-width="1.60" />
<line x1="360.41" y1="432.50" x2="360.41" y2="442.70" stroke="#4fcc45" stroke-width="1.60" />
<line x1="368.19" y1="424.60" x2="383.76" y2="424.60" stroke="#4fcc45" stroke-width="1.60" />
<line x1="375.98" y1="416.40" x2="375.98" y2="432.80" stroke="#4fcc45" stroke-width="1.60" />
<line x1="383.76" y1="409.10" x2="399.33" y2="409.10" stroke="#4fcc45" stroke-width="1.60" />
<line x1="391.54" y1="398.20" x2="391.54" y2="420.00" stroke="#4fcc45" stroke-width="1.60" />
<line x1="399.33" y1="401.00" x2="414.90" y2="401.00" stroke="#4fcc45" stroke-width="1.60" />
<line x1="407.11" y1="387.30" x2="407.11" y2="412.80" stroke="#4fcc45" stroke-width="1.60" />
<line x1="414.90" y1="394.60" x2="430.46" y2="394.60" stroke="#4fcc45" stroke-width="1.60" />
<line x1="422.68" y1="379.50" x2="422.68" y2="409.00" stroke="#4fcc45" stroke-width="1.60" />
<line x1="430.46" y1="427.70" x2="446.03" y2="427.70" stroke="#4fcc45" stroke-width="1.60" />
<line x1="438.25" y1="414.60" x2="438.25" y2="440.10" stroke="#4fcc45" stroke-width="1.60" />
<line x1="446.03" y1="397.30" x2="461.60" y2="397.30" stroke="#4fcc45" stroke-width="1.60" />
<line x1="453.82" y1="379.50" x2="453.82" y2="414.50" stroke="#4fcc45" stroke-width="1.60" />
<line x1="461.60" y1="435.00" x2="477.17" y2="435.00" stroke="#4fcc45" stroke-width="1.60" />
<line x1="469.38" y1="419.00" x2="469.38" y2="450.50" stroke="#4fcc45" stroke-width="1.60" />
<line x1="477.17" y1="452.40" x2="492.74" y2="452.40" stroke="#4fcc45" stroke-width="1.60" />
<line x1="484.95" y1="442.40" x2="484.95" y2="462.00" stroke="#4fcc45" stroke-width="1.60" />
<line x1="492.74" y1="441.00" x2="508.30" y2="441.00" stroke="#4fcc45" stroke-width="1.60" />
<line x1="500.52" y1="422.00" x2="500.52" y2="461.00" stroke="#4fcc45" stroke-width="1.60" />
<line x1="508.30" y1="395.00" x2="523.87" y2="395.00" stroke="#4fcc45" stroke-width="1.60" />
<line x1="516.09" y1="345.00" x2="516.09" y2="457.00" stroke="#4fcc45" stroke-width="1.60" />
<line x1="523.87" y1="476.50" x2="539.44" y2="476.50" stroke="#4fcc45" stroke-width="1.60" />
<line x1="531.66" y1="430.00" x2="531.66" y2="506.00" stroke="#4fcc45" stroke-width="1.60" />
<circle cx="80.18" cy="463.20" r="3.00" fill="#4fcc45"/>
<circle cx="95.75" cy="481.00" r="3.00" fill="#4fcc45"/>
<circle cx="111.32" cy="477.00" r="3.00" fill="#4fcc45"/>
<circle cx="126.89" cy="479.00" r="3.00" fill="#4fcc45"/>
<circle cx="142.46" cy="478.00" r="3.00" fill="#4fcc45"/>
<circle cx="158.02" cy="480.50" r="3.00" fill="#4fcc45"/>
<circle cx="173.59" cy="480.50" r="3.00" fill="#4fcc45"/>
<circle cx="189.16" cy="478.50" r="3.00" fill="#4fcc45"/>
<circle cx="204.73" cy="476.20" r="3.00" fill="#4fcc45"/>
<circle cx="220.30" cy="474.80" r="3.00" fill="#4fcc45"/>
<circle cx="235.86" cy="473.30" r="3.00" fill="#4fcc45"/>
<circle cx="251.43" cy="473.50" r="3.00" fill="#4fcc45"/>
<circle cx="267.00" cy="468.40" r="3.00" fill="#4fcc45"/>
<circle cx="282.57" cy="461.60" r="3.00" fill="#4fcc45"/>
<circle cx="298.14" cy="453.80" r="3.00" fill="#4fcc45"/>
<circle cx="313.70" cy="448.50" r="3.00" fill="#4fcc45"/>
<circle cx="329.27" cy="453.20" r="3.00" fill="#4fcc45"/>
<circle cx="344.84" cy="448.20" r="3.00" fill="#4fcc45"/>
<circle cx="360.41" cy="437.60" r="3.00" fill="#4fcc45"/>
<circle cx="375.98" cy="424.60" r="3.00" fill="#4fcc45"/>
<circle cx="391.54" cy="409.10" r="3.00" fill="#4fcc45"/>
<circle cx="407.11" cy="401.00" r="3.00" fill="#4fcc45"/>
<circle cx="422.68" cy="394.60" r="3.00" fill="#4fcc45"/>
<circle cx="438.25" cy="427.70" r="3.00" fill="#4fcc45"/>
<circle cx="453.82" cy="397.30" r="3.00" fill="#4fcc45"/>
<circle cx="469.38" cy="435.00" r="3.00" fill="#4fcc45"/>
<circle cx="484.95" cy="452.40" r="3.00" fill="#4fcc45"/>
<circle cx="500.52" cy="441.00" r="3.00" fill="#4fcc45"/>
<circle cx="516.09" cy="395.00" r="3.00" fill="#4fcc45"/>
<circle cx="531.66" cy="476.50" r="3.00" fill="#4fcc45"/>
<line x1="72.40" y1="490.00" x2="87.97" y2="490.00" stroke="#ff00ff" stroke-width="1.20" />
<line x1="80.18" y1="474.00" x2="80.18" y2="506.00" stroke="#ff00ff" stroke-width="1.20" />
<line x1="87.97" y1="489.50" x2="103.54" y2="489.50" stroke="#ff00ff" stroke-width="1.20" />
<line x1="95.75" y1="479.00" x2="95.75" y2="500.00" stroke="#ff00ff" stroke-width="1.20" />
<line x1="103.54" y1="476.60" x2="119.10" y2="476.60" stroke="#ff00ff" stroke-width="1.20" />
<line x1="111.32" y1="474.50" x2="111.32" y2="478.00" stroke="#ff00ff" stroke-width="1.20" />
<line x1="119.10" y1="476.80" x2="134.67" y2="476.80" stroke="#ff00ff" stroke-width="1.20" />
<line x1="126.89" y1="475.00" x2="126.89" y2="478.60" stroke="#ff00ff" stroke-width="1.20" />
<line x1="134.67" y1="476.80" x2="150.24" y2="476.80" stroke="#ff00ff" stroke-width="1.20" />
<line x1="142.46" y1="475.00" x2="142.46" y2="478.60" stroke="#ff00ff" stroke-width="1.20" />
<line x1="150.24" y1="479.00" x2="165.81" y2="479.00" stroke="#ff00ff" stroke-width="1.20" />
<line x1="158.02" y1="477.00" x2="158.02" y2="481.00" stroke="#ff00ff" stroke-width="1.20" />
<line x1="165.81" y1="478.40" x2="181.38" y2="478.40" stroke="#ff00ff" stroke-width="1.20" />
<line x1="173.59" y1="476.40" x2="173.59" y2="480.40" stroke="#ff00ff" stroke-width="1.20" />
<line x1="181.38" y1="478.40" x2="196.94" y2="478.40" stroke="#ff00ff" stroke-width="1.20" />
<line x1="189.16" y1="476.20" x2="189.16" y2="480.60" stroke="#ff00ff" stroke-width="1.20" />
<line x1="196.94" y1="474.80" x2="212.51" y2="474.80" stroke="#ff00ff" stroke-width="1.20" />
<line x1="204.73" y1="472.60" x2="204.73" y2="477.00" stroke="#ff00ff" stroke-width="1.20" />
<line x1="212.51" y1="472.60" x2="228.08" y2="472.60" stroke="#ff00ff" stroke-width="1.20" />
<line x1="220.30" y1="470.40" x2="220.30" y2="474.80" stroke="#ff00ff" stroke-width="1.20" />
<line x1="228.08" y1="471.90" x2="243.65" y2="471.90" stroke="#ff00ff" stroke-width="1.20" />
<line x1="235.86" y1="469.50" x2="235.86" y2="474.30" stroke="#ff00ff" stroke-width="1.20" />
<line x1="243.65" y1="472.40" x2="259.22" y2="472.40" stroke="#ff00ff" stroke-width="1.20" />
<line x1="251.43" y1="470.00" x2="251.43" y2="474.80" stroke="#ff00ff" stroke-width="1.20" />
<line x1="259.22" y1="468.40" x2="274.78" y2="468.40" stroke="#ff00ff" stroke-width="1.20" />
<line x1="267.00" y1="466.00" x2="267.00" y2="470.80" stroke="#ff00ff" stroke-width="1.20" />
<line x1="274.78" y1="463.30" x2="290.35" y2="463.30" stroke="#ff00ff" stroke-width="1.20" />
<line x1="282.57" y1="460.50" x2="282.57" y2="466.10" stroke="#ff00ff" stroke-width="1.20" />
<line x1="290.35" y1="458.20" x2="305.92" y2="458.20" stroke="#ff00ff" stroke-width="1.20" />
<line x1="298.14" y1="455.00" x2="298.14" y2="461.40" stroke="#ff00ff" stroke-width="1.20" />
<line x1="305.92" y1="453.30" x2="321.49" y2="453.30" stroke="#ff00ff" stroke-width="1.20" />
<line x1="313.70" y1="449.80" x2="313.70" y2="456.80" stroke="#ff00ff" stroke-width="1.20" />
<line x1="321.49" y1="453.20" x2="337.06" y2="453.20" stroke="#ff00ff" stroke-width="1.20" />
<line x1="329.27" y1="449.20" x2="329.27" y2="457.20" stroke="#ff00ff" stroke-width="1.20" />
<line x1="337.06" y1="460.00" x2="352.62" y2="460.00" stroke="#ff00ff" stroke-width="1.20" />
<line x1="344.84" y1="455.50" x2="344.84" y2="464.50" stroke="#ff00ff" stroke-width="1.20" />
<line x1="352.62" y1="448.40" x2="368.19" y2="448.40" stroke="#ff00ff" stroke-width="1.20" />
<line x1="360.41" y1="443.00" x2="360.41" y2="453.80" stroke="#ff00ff" stroke-width="1.20" />
<line x1="368.19" y1="430.10" x2="383.76" y2="430.10" stroke="#ff00ff" stroke-width="1.20" />
<line x1="375.98" y1="423.70" x2="375.98" y2="441.90" stroke="#ff00ff" stroke-width="1.20" />
<line x1="383.76" y1="436.50" x2="399.33" y2="436.50" stroke="#ff00ff" stroke-width="1.20" />
<line x1="391.54" y1="428.30" x2="391.54" y2="444.70" stroke="#ff00ff" stroke-width="1.20" />
<line x1="399.33" y1="407.30" x2="414.90" y2="407.30" stroke="#ff00ff" stroke-width="1.20" />
<line x1="407.11" y1="394.00" x2="407.11" y2="420.00" stroke="#ff00ff" stroke-width="1.20" />
<line x1="414.90" y1="414.60" x2="430.46" y2="414.60" stroke="#ff00ff" stroke-width="1.20" />
<line x1="422.68" y1="402.00" x2="422.68" y2="427.40" stroke="#ff00ff" stroke-width="1.20" />
<line x1="430.46" y1="444.70" x2="446.03" y2="444.70" stroke="#ff00ff" stroke-width="1.20" />
<line x1="438.25" y1="432.80" x2="438.25" y2="455.60" stroke="#ff00ff" stroke-width="1.20" />
<line x1="446.03" y1="447.40" x2="461.60" y2="447.40" stroke="#ff00ff" stroke-width="1.20" />
<line x1="453.82" y1="436.50" x2="453.82" y2="458.30" stroke="#ff00ff" stroke-width="1.20" />
<line x1="461.60" y1="470.00" x2="477.17" y2="470.00" stroke="#ff00ff" stroke-width="1.20" />
<line x1="469.38" y1="460.00" x2="469.38" y2="480.00" stroke="#ff00ff" stroke-width="1.20" />
<line x1="477.17" y1="466.40" x2="492.74" y2="466.40" stroke="#ff00ff" stroke-width="1.20" />
<line x1="484.95" y1="454.00" x2="484.95" y2="478.80" stroke="#ff00ff" stroke-width="1.20" />
<line x1="492.74" y1="460.80" x2="508.30" y2="460.80" stroke="#ff00ff" stroke-width="1.20" />
<line x1="500.52" y1="449.00" x2="500.52" y2="478.40" stroke="#ff00ff" stroke-width="1.20" />
<line x1="508.30" y1="476.50" x2="523.87" y2="476.50" stroke="#ff00ff" stroke-width="1.20" />
<line x1="516.09" y1="472.00" x2="516.09" y2="481.50" stroke="#ff00ff" stroke-width="1.20" />
<line x1="523.87" y1="476.50" x2="539.44" y2="476.50" stroke="#ff00ff" stroke-width="1.20" />
<line x1="531.66" y1="432.00" x2="531.66" y2="525.00" stroke="#ff00ff" stroke-width="1.20" />
<rect x="77.18" y="487.00" width="6.00" height="6.00" fill="none" stroke="#ff00ff" stroke-width="1.1"/>
<rect x="92.75" y="486.50" width="6.00" height="6.00" fill="none" stroke="#ff00ff" stroke-width="1.1"/>
<rect x="108.32" y="473.60" width="6.00" height="6.00" fill="none" stroke="#ff00ff" stroke-width="1.1"/>
<rect x="123.89" y="473.80" width="6.00" height="6.00" fill="none" stroke="#ff00ff" stroke-width="1.1"/>
<rect x="139.46" y="473.80" width="6.00" height="6.00" fill="none" stroke="#ff00ff" stroke-width="1.1"/>
<rect x="155.02" y="476.00" width="6.00" height="6.00" fill="none" stroke="#ff00ff" stroke-width="1.1"/>
<rect x="170.59" y="475.40" width="6.00" height="6.00" fill="none" stroke="#ff00ff" stroke-width="1.1"/>
<rect x="186.16" y="475.40" width="6.00" height="6.00" fill="none" stroke="#ff00ff" stroke-width="1.1"/>
<rect x="201.73" y="471.80" width="6.00" height="6.00" fill="none" stroke="#ff00ff" stroke-width="1.1"/>
<rect x="217.30" y="469.60" width="6.00" height="6.00" fill="none" stroke="#ff00ff" stroke-width="1.1"/>
<rect x="232.86" y="468.90" width="6.00" height="6.00" fill="none" stroke="#ff00ff" stroke-width="1.1"/>
<rect x="248.43" y="469.40" width="6.00" height="6.00" fill="none" stroke="#ff00ff" stroke-width="1.1"/>
<rect x="264.00" y="465.40" width="6.00" height="6.00" fill="none" stroke="#ff00ff" stroke-width="1.1"/>
<rect x="279.57" y="460.30" width="6.00" height="6.00" fill="none" stroke="#ff00ff" stroke-width="1.1"/>
<rect x="295.14" y="455.20" width="6.00" height="6.00" fill="none" stroke="#ff00ff" stroke-width="1.1"/>
<rect x="310.70" y="450.30" width="6.00" height="6.00" fill="none" stroke="#ff00ff" stroke-width="1.1"/>
<rect x="326.27" y="450.20" width="6.00" height="6.00" fill="none" stroke="#ff00ff" stroke-width="1.1"/>
<rect x="341.84" y="457.00" width="6.00" height="6.00" fill="none" stroke="#ff00ff" stroke-width="1.1"/>
<rect x="357.41" y="445.40" width="6.00" height="6.00" fill="none" stroke="#ff00ff" stroke-width="1.1"/>
<rect x="372.98" y="427.10" width="6.00" height="6.00" fill="none" stroke="#ff00ff" stroke-width="1.1"/>
<rect x="388.54" y="433.50" width="6.00" height="6.00" fill="none" stroke="#ff00ff" stroke-width="1.1"/>
<rect x="404.11" y="404.30" width="6.00" height="6.00" fill="none" stroke="#ff00ff" stroke-width="1.1"/>
<rect x="419.68" y="411.60" width="6.00" height="6.00" fill="none" stroke="#ff00ff" stroke-width="1.1"/>
<rect x="435.25" y="441.70" width="6.00" height="6.00" fill="none" stroke="#ff00ff" stroke-width="1.1"/>
<rect x="450.82" y="444.40" width="6.00" height="6.00" fill="none" stroke="#ff00ff" stroke-width="1.1"/>
<rect x="466.38" y="467.00" width="6.00" height="6.00" fill="none" stroke="#ff00ff" stroke-width="1.1"/>
<rect x="481.95" y="463.40" width="6.00" height="6.00" fill="none" stroke="#ff00ff" stroke-width="1.1"/>
<rect x="497.52" y="457.80" width="6.00" height="6.00" fill="none" stroke="#ff00ff" stroke-width="1.1"/>
<rect x="513.09" y="473.50" width="6.00" height="6.00" fill="none" stroke="#ff00ff" stroke-width="1.1"/>
<rect x="528.66" y="473.50" width="6.00" height="6.00" fill="none" stroke="#ff00ff" stroke-width="1.1"/>
</g>
<rect x="57.5" y="343.5" width="482.0" height="165.0" fill="none" stroke="#000" stroke-width="1"/>
<line x1="57.50" y1="508.50" x2="72.00" y2="508.50" stroke="#000" stroke-width="1.00" />
<text x="53.90" y="514.70" font-size="16.60" text-anchor="end" >0.5</text>
<line x1="57.50" y1="476.50" x2="72.00" y2="476.50" stroke="#000" stroke-width="1.00" />
<text x="53.90" y="482.70" font-size="16.60" text-anchor="end" >1</text>
<line x1="57.50" y1="444.50" x2="72.00" y2="444.50" stroke="#000" stroke-width="1.00" />
<text x="53.90" y="450.70" font-size="16.60" text-anchor="end" >1.5</text>
<line x1="57.50" y1="412.50" x2="72.00" y2="412.50" stroke="#000" stroke-width="1.00" />
<text x="53.90" y="418.70" font-size="16.60" text-anchor="end" >2</text>
<line x1="57.50" y1="379.50" x2="72.00" y2="379.50" stroke="#000" stroke-width="1.00" />
<text x="53.90" y="385.70" font-size="16.60" text-anchor="end" >2.5</text>
<line x1="57.50" y1="347.50" x2="72.00" y2="347.50" stroke="#000" stroke-width="1.00" />
<text x="53.90" y="353.70" font-size="16.60" text-anchor="end" >3</text>
<line x1="72.50" y1="508.50" x2="72.50" y2="502.50" stroke="#000" stroke-width="1.00" />
<line x1="91.50" y1="508.50" x2="91.50" y2="505.50" stroke="#000" stroke-width="1.00" />
<line x1="111.50" y1="508.50" x2="111.50" y2="505.50" stroke="#000" stroke-width="1.00" />
<line x1="130.50" y1="508.50" x2="130.50" y2="505.50" stroke="#000" stroke-width="1.00" />
<line x1="150.50" y1="508.50" x2="150.50" y2="502.50" stroke="#000" stroke-width="1.00" />
<line x1="169.50" y1="508.50" x2="169.50" y2="505.50" stroke="#000" stroke-width="1.00" />
<line x1="189.50" y1="508.50" x2="189.50" y2="505.50" stroke="#000" stroke-width="1.00" />
<line x1="208.50" y1="508.50" x2="208.50" y2="505.50" stroke="#000" stroke-width="1.00" />
<line x1="228.50" y1="508.50" x2="228.50" y2="502.50" stroke="#000" stroke-width="1.00" />
<line x1="247.50" y1="508.50" x2="247.50" y2="505.50" stroke="#000" stroke-width="1.00" />
<line x1="267.50" y1="508.50" x2="267.50" y2="505.50" stroke="#000" stroke-width="1.00" />
<line x1="286.50" y1="508.50" x2="286.50" y2="505.50" stroke="#000" stroke-width="1.00" />
<line x1="305.50" y1="508.50" x2="305.50" y2="502.50" stroke="#000" stroke-width="1.00" />
<line x1="325.50" y1="508.50" x2="325.50" y2="505.50" stroke="#000" stroke-width="1.00" />
<line x1="344.50" y1="508.50" x2="344.50" y2="505.50" stroke="#000" stroke-width="1.00" />
<line x1="364.50" y1="508.50" x2="364.50" y2="505.50" stroke="#000" stroke-width="1.00" />
<line x1="383.50" y1="508.50" x2="383.50" y2="502.50" stroke="#000" stroke-width="1.00" />
<line x1="403.50" y1="508.50" x2="403.50" y2="505.50" stroke="#000" stroke-width="1.00" />
<line x1="422.50" y1="508.50" x2="422.50" y2="505.50" stroke="#000" stroke-width="1.00" />
<line x1="442.50" y1="508.50" x2="442.50" y2="505.50" stroke="#000" stroke-width="1.00" />
<line x1="461.50" y1="508.50" x2="461.50" y2="502.50" stroke="#000" stroke-width="1.00" />
<line x1="481.50" y1="508.50" x2="481.50" y2="505.50" stroke="#000" stroke-width="1.00" />
<line x1="500.50" y1="508.50" x2="500.50" y2="505.50" stroke="#000" stroke-width="1.00" />
<line x1="519.50" y1="508.50" x2="519.50" y2="505.50" stroke="#000" stroke-width="1.00" />
<line x1="539.50" y1="508.50" x2="539.50" y2="502.50" stroke="#000" stroke-width="1.00" />
<text x="72.40" y="524.60" font-size="15.80" text-anchor="middle" >−0.6</text>
<text x="150.24" y="524.60" font-size="15.80" text-anchor="middle" >−0.4</text>
<text x="228.08" y="524.60" font-size="15.80" text-anchor="middle" >−0.2</text>
<text x="305.92" y="524.60" font-size="15.80" text-anchor="middle" >0</text>
<text x="383.76" y="524.60" font-size="15.80" text-anchor="middle" >0.2</text>
<text x="461.60" y="524.60" font-size="15.80" text-anchor="middle" >0.4</text>
<text x="539.44" y="524.60" font-size="15.80" text-anchor="middle" >0.6</text>
<text x="538.80" y="541.50" font-size="16.00" text-anchor="end" >BDT response</text>
<rect x="87.2" y="7.6" width="440.3" height="60.9" fill="white" stroke="#222" stroke-width="1.1"/>
<line x1="95.00" y1="17.80" x2="134.00" y2="17.80" stroke="#ff0000" stroke-width="2.00" />
<circle cx="114.90" cy="17.80" r="2.90" fill="none" stroke="#ff0000" stroke-width="1.2"/>
<line x1="95.00" y1="38.20" x2="134.00" y2="38.20" stroke="#4fcc45" stroke-width="1.30" />
<circle cx="114.90" cy="38.20" r="3.00" fill="#4fcc45"/>
<rect x="95" y="51" width="39.3" height="14.9" fill="#f99a33"/>
<line x1="309.00" y1="17.80" x2="348.00" y2="17.80" stroke="#0000ff" stroke-width="2.00" />
<rect x="326.02" y="14.92" width="5.76" height="5.76" fill="#0000ff"/>
<line x1="309.00" y1="38.20" x2="348.00" y2="38.20" stroke="#ff00ff" stroke-width="1.50" />
<rect x="325.90" y="35.20" width="6.00" height="6.00" fill="none" stroke="#ff00ff" stroke-width="1.1"/>
<line x1="309.00" y1="58.40" x2="348.00" y2="58.40" stroke="#000000" stroke-width="1.00" />
<path d="M328.90 55.30L331.10 58.40L328.90 61.50L326.70 58.40Z" fill="none" stroke="#000000" stroke-width="1.15"/>
<text x="142.00" y="23.00" font-size="16.00" text-anchor="start" >QGSJET-II-03</text>
<text x="142.00" y="43.40" font-size="16.00" text-anchor="start" >EPOS-LHC</text>
<text x="142.00" y="63.60" font-size="16.00" text-anchor="start" >electron</text>
<text x="355.70" y="23.00" font-size="16.00" text-anchor="start" >QGSJET-II-04</text>
<text x="355.70" y="43.40" font-size="16.00" text-anchor="start" >SIBYLL2.3c</text>
<text x="355.70" y="63.60" font-size="16.00" text-anchor="start" >Helium (EPOS)</text>
<text transform="translate(12.8,-1.2) rotate(-90) scale(1,0.93)" font-size="17.4" text-anchor="end">Expected event rate [1/s]</text>
<text transform="translate(12.3,342.2) rotate(-90)" font-size="16" text-anchor="end">Ratio to QGSJET-II-03</text>
</svg></body></html>
